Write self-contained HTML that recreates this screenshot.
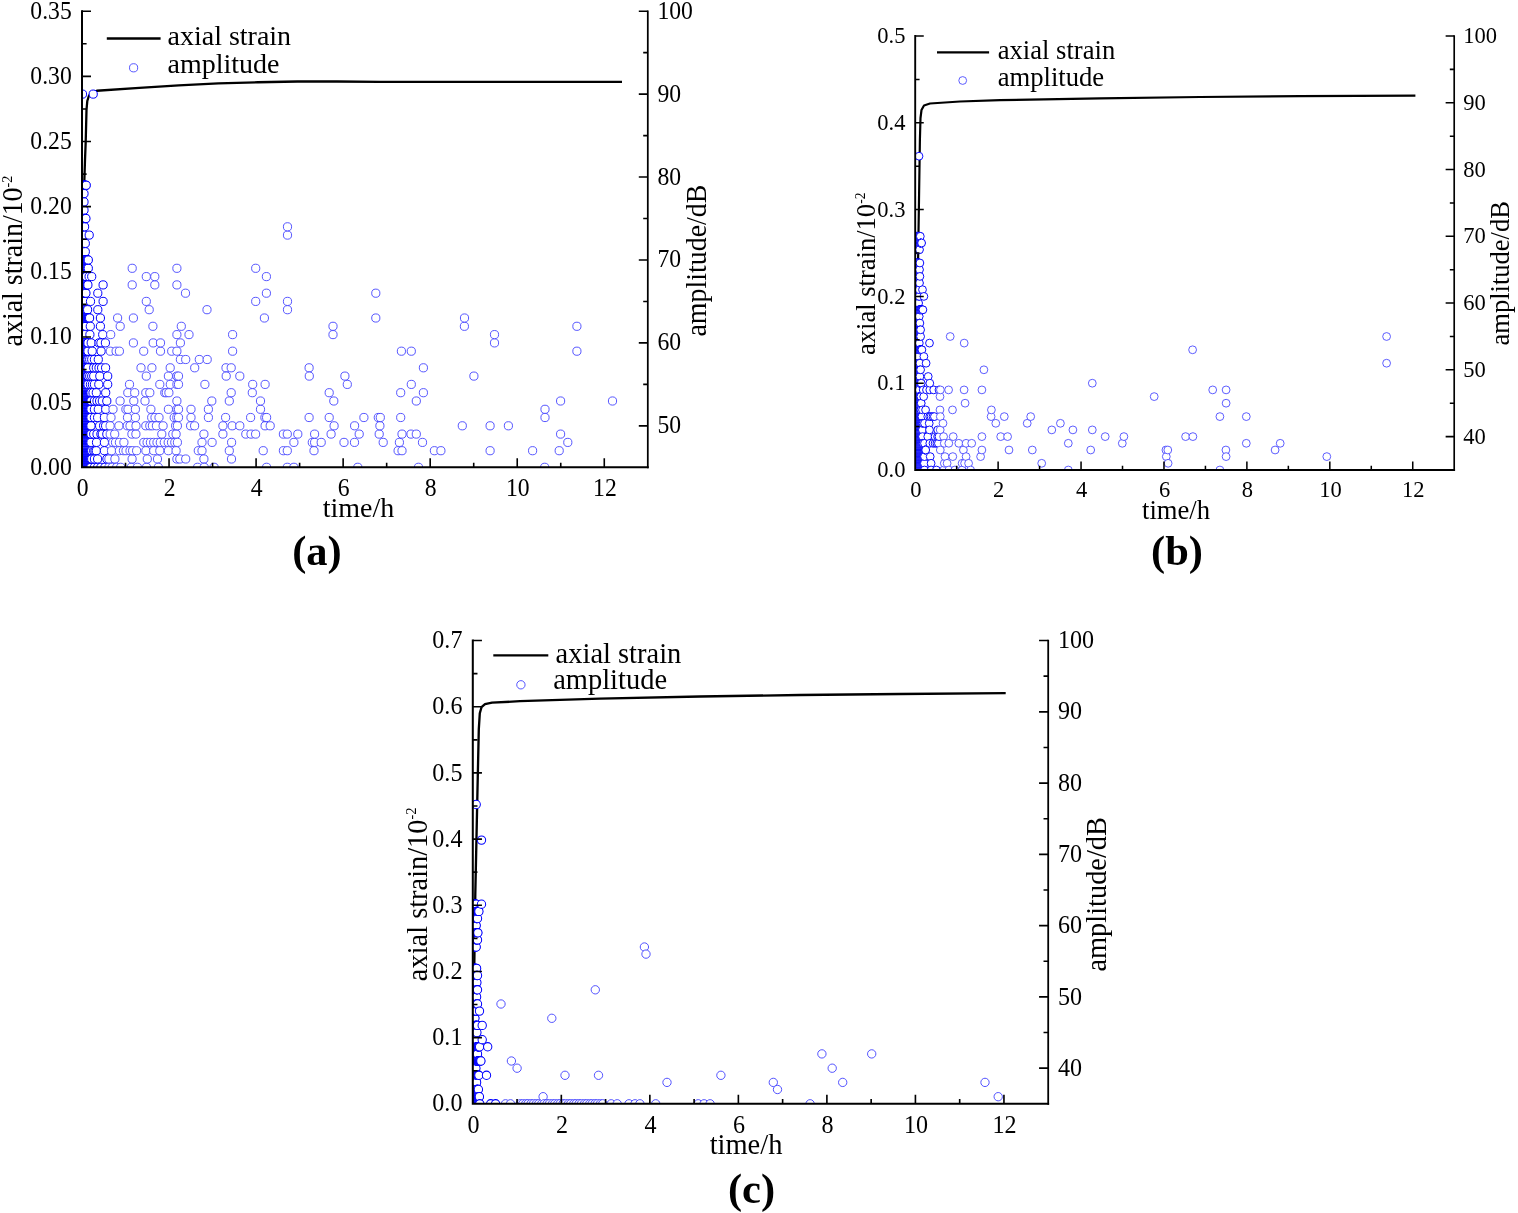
<!DOCTYPE html>
<html lang="en">
<head>
<meta charset="utf-8">
<title>Axial strain and AE amplitude versus time</title>
<style>
html,body{margin:0;padding:0;background:#fff;}
body{width:1518px;height:1213px;overflow:hidden;}
svg{display:block;}
text{font-family:"Liberation Serif",serif;fill:#000;}
.lb{font-weight:bold;}
.ax{stroke:#000;fill:none;}
.pt{fill:#fff;stroke:#4444ff;}
.pn{stroke:#0000ff;}
.cv{fill:none;stroke:#000;stroke-linecap:butt;stroke-linejoin:round;}
</style>
</head>
<body>
<svg width="1518" height="1213" viewBox="0 0 1518 1213">
<rect width="1518" height="1213" fill="#fff"/>

<g id="chart-a">
<clipPath id="clip-a"><rect x="82.0" y="9.2" width="565.8" height="458.1"/></clipPath>
<g clip-path="url(#clip-a)">
<path class="cv" stroke-width="2.30" d="M84.3,182 L85,160 L85.7,142 L86.5,110 L87.3,101 L89,95.5 L92.3,92.2 L96.8,90.75 L139.3,87.8 L178.8,85.4 L218.3,83.4 L257.9,82.25 L297.4,81.5 L336.9,81.5 L380,81.8 L622,81.8"/>
<g class="pt pn" stroke-width="1.00"><circle cx="82.0" cy="467.3" r="4.10"/><circle cx="82.0" cy="459.0" r="4.10"/><circle cx="82.0" cy="450.7" r="4.10"/><circle cx="82.0" cy="442.4" r="4.10"/><circle cx="82.0" cy="434.1" r="4.10"/><circle cx="82.0" cy="425.8" r="4.10"/><circle cx="82.0" cy="417.5" r="4.10"/><circle cx="82.0" cy="409.3" r="4.10"/><circle cx="82.0" cy="401.0" r="4.10"/><circle cx="82.0" cy="392.7" r="4.10"/><circle cx="82.0" cy="384.4" r="4.10"/><circle cx="82.0" cy="376.1" r="4.10"/><circle cx="82.0" cy="367.8" r="4.10"/><circle cx="82.0" cy="359.5" r="4.10"/><circle cx="82.0" cy="351.2" r="4.10"/><circle cx="82.0" cy="342.9" r="4.10"/><circle cx="82.0" cy="334.6" r="4.10"/><circle cx="82.0" cy="326.3" r="4.10"/><circle cx="82.0" cy="318.0" r="4.10"/><circle cx="82.0" cy="309.7" r="4.10"/><circle cx="82.0" cy="301.4" r="4.10"/><circle cx="82.0" cy="293.2" r="4.10"/><circle cx="82.0" cy="284.9" r="4.10"/><circle cx="82.0" cy="276.6" r="4.10"/><circle cx="82.0" cy="268.3" r="4.10"/><circle cx="82.0" cy="260.0" r="4.10"/><circle cx="82.0" cy="251.7" r="4.10"/><circle cx="82.0" cy="243.4" r="4.10"/><circle cx="82.0" cy="235.1" r="4.10"/><circle cx="82.0" cy="226.8" r="4.10"/><circle cx="82.0" cy="218.5" r="4.10"/><circle cx="82.0" cy="210.2" r="4.10"/><circle cx="82.0" cy="201.9" r="4.10"/><circle cx="82.0" cy="193.6" r="4.10"/><circle cx="82.0" cy="185.3" r="4.10"/><circle cx="82.3" cy="467.3" r="4.10"/><circle cx="82.3" cy="459.0" r="4.10"/><circle cx="82.3" cy="450.7" r="4.10"/><circle cx="82.3" cy="442.4" r="4.10"/><circle cx="82.3" cy="434.1" r="4.10"/><circle cx="82.3" cy="425.8" r="4.10"/><circle cx="82.3" cy="417.5" r="4.10"/><circle cx="82.3" cy="409.3" r="4.10"/><circle cx="82.3" cy="401.0" r="4.10"/><circle cx="82.3" cy="392.7" r="4.10"/><circle cx="82.3" cy="384.4" r="4.10"/><circle cx="82.3" cy="376.1" r="4.10"/><circle cx="82.3" cy="367.8" r="4.10"/><circle cx="82.3" cy="359.5" r="4.10"/><circle cx="82.3" cy="351.2" r="4.10"/><circle cx="82.3" cy="342.9" r="4.10"/><circle cx="82.3" cy="334.6" r="4.10"/><circle cx="82.3" cy="326.3" r="4.10"/><circle cx="82.3" cy="318.0" r="4.10"/><circle cx="82.3" cy="309.7" r="4.10"/><circle cx="82.3" cy="301.4" r="4.10"/><circle cx="82.3" cy="293.2" r="4.10"/><circle cx="82.3" cy="284.9" r="4.10"/><circle cx="82.3" cy="276.6" r="4.10"/><circle cx="82.3" cy="268.3" r="4.10"/><circle cx="82.3" cy="260.0" r="4.10"/><circle cx="82.3" cy="251.7" r="4.10"/><circle cx="82.3" cy="243.4" r="4.10"/><circle cx="82.3" cy="235.1" r="4.10"/><circle cx="82.3" cy="226.8" r="4.10"/><circle cx="82.3" cy="218.5" r="4.10"/><circle cx="82.3" cy="210.2" r="4.10"/><circle cx="82.3" cy="201.9" r="4.10"/><circle cx="82.3" cy="193.6" r="4.10"/><circle cx="82.3" cy="185.3" r="4.10"/><circle cx="82.5" cy="94.1" r="4.10"/><circle cx="82.6" cy="467.3" r="4.10"/><circle cx="82.6" cy="459.0" r="4.10"/><circle cx="82.6" cy="450.7" r="4.10"/><circle cx="82.6" cy="442.4" r="4.10"/><circle cx="82.6" cy="434.1" r="4.10"/><circle cx="82.6" cy="425.8" r="4.10"/><circle cx="82.6" cy="417.5" r="4.10"/><circle cx="82.6" cy="409.3" r="4.10"/><circle cx="82.6" cy="401.0" r="4.10"/><circle cx="82.6" cy="392.7" r="4.10"/><circle cx="82.6" cy="384.4" r="4.10"/><circle cx="82.6" cy="376.1" r="4.10"/><circle cx="82.6" cy="367.8" r="4.10"/><circle cx="82.6" cy="359.5" r="4.10"/><circle cx="82.6" cy="351.2" r="4.10"/><circle cx="82.6" cy="342.9" r="4.10"/><circle cx="82.6" cy="334.6" r="4.10"/><circle cx="82.6" cy="326.3" r="4.10"/><circle cx="82.6" cy="318.0" r="4.10"/><circle cx="82.6" cy="309.7" r="4.10"/><circle cx="82.6" cy="301.4" r="4.10"/><circle cx="82.6" cy="293.2" r="4.10"/><circle cx="82.6" cy="284.9" r="4.10"/><circle cx="82.6" cy="276.6" r="4.10"/><circle cx="82.6" cy="268.3" r="4.10"/><circle cx="82.6" cy="260.0" r="4.10"/><circle cx="82.6" cy="251.7" r="4.10"/><circle cx="82.6" cy="243.4" r="4.10"/><circle cx="82.6" cy="235.1" r="4.10"/><circle cx="82.6" cy="226.8" r="4.10"/><circle cx="82.6" cy="218.5" r="4.10"/><circle cx="82.6" cy="210.2" r="4.10"/><circle cx="82.6" cy="201.9" r="4.10"/><circle cx="82.6" cy="193.6" r="4.10"/><circle cx="82.6" cy="185.3" r="4.10"/><circle cx="82.9" cy="467.3" r="4.10"/><circle cx="82.9" cy="459.0" r="4.10"/><circle cx="82.9" cy="450.7" r="4.10"/><circle cx="82.9" cy="442.4" r="4.10"/><circle cx="82.9" cy="434.1" r="4.10"/><circle cx="82.9" cy="425.8" r="4.10"/><circle cx="82.9" cy="417.5" r="4.10"/><circle cx="82.9" cy="409.3" r="4.10"/><circle cx="82.9" cy="401.0" r="4.10"/><circle cx="82.9" cy="392.7" r="4.10"/><circle cx="82.9" cy="384.4" r="4.10"/><circle cx="82.9" cy="376.1" r="4.10"/><circle cx="82.9" cy="367.8" r="4.10"/><circle cx="82.9" cy="359.5" r="4.10"/><circle cx="82.9" cy="351.2" r="4.10"/><circle cx="82.9" cy="342.9" r="4.10"/><circle cx="82.9" cy="334.6" r="4.10"/><circle cx="82.9" cy="326.3" r="4.10"/><circle cx="82.9" cy="318.0" r="4.10"/><circle cx="82.9" cy="309.7" r="4.10"/><circle cx="82.9" cy="301.4" r="4.10"/><circle cx="82.9" cy="293.2" r="4.10"/><circle cx="82.9" cy="284.9" r="4.10"/><circle cx="82.9" cy="276.6" r="4.10"/><circle cx="82.9" cy="268.3" r="4.10"/><circle cx="82.9" cy="260.0" r="4.10"/><circle cx="82.9" cy="251.7" r="4.10"/><circle cx="82.9" cy="243.4" r="4.10"/><circle cx="82.9" cy="235.1" r="4.10"/><circle cx="82.9" cy="226.8" r="4.10"/><circle cx="82.9" cy="218.5" r="4.10"/><circle cx="82.9" cy="210.2" r="4.10"/><circle cx="82.9" cy="201.9" r="4.10"/><circle cx="82.9" cy="193.6" r="4.10"/><circle cx="82.9" cy="185.3" r="4.10"/><circle cx="83.2" cy="467.3" r="4.10"/><circle cx="83.2" cy="459.0" r="4.10"/><circle cx="83.2" cy="450.7" r="4.10"/><circle cx="83.2" cy="442.4" r="4.10"/><circle cx="83.2" cy="434.1" r="4.10"/><circle cx="83.2" cy="425.8" r="4.10"/><circle cx="83.2" cy="417.5" r="4.10"/><circle cx="83.2" cy="409.3" r="4.10"/><circle cx="83.2" cy="401.0" r="4.10"/><circle cx="83.2" cy="392.7" r="4.10"/><circle cx="83.2" cy="384.4" r="4.10"/><circle cx="83.2" cy="376.1" r="4.10"/><circle cx="83.2" cy="367.8" r="4.10"/><circle cx="83.2" cy="359.5" r="4.10"/><circle cx="83.2" cy="351.2" r="4.10"/><circle cx="83.2" cy="342.9" r="4.10"/><circle cx="83.2" cy="334.6" r="4.10"/><circle cx="83.2" cy="326.3" r="4.10"/><circle cx="83.2" cy="318.0" r="4.10"/><circle cx="83.2" cy="309.7" r="4.10"/><circle cx="83.2" cy="301.4" r="4.10"/><circle cx="83.2" cy="293.2" r="4.10"/><circle cx="83.2" cy="284.9" r="4.10"/><circle cx="83.2" cy="276.6" r="4.10"/><circle cx="83.2" cy="268.3" r="4.10"/><circle cx="83.2" cy="260.0" r="4.10"/><circle cx="83.2" cy="251.7" r="4.10"/><circle cx="83.2" cy="243.4" r="4.10"/><circle cx="83.2" cy="235.1" r="4.10"/><circle cx="83.2" cy="226.8" r="4.10"/><circle cx="83.2" cy="218.5" r="4.10"/><circle cx="83.2" cy="210.2" r="4.10"/><circle cx="83.2" cy="201.9" r="4.10"/><circle cx="83.2" cy="193.6" r="4.10"/><circle cx="83.2" cy="185.3" r="4.10"/><circle cx="83.5" cy="467.3" r="4.10"/><circle cx="83.5" cy="459.0" r="4.10"/><circle cx="83.5" cy="450.7" r="4.10"/><circle cx="83.5" cy="442.4" r="4.10"/><circle cx="83.5" cy="434.1" r="4.10"/><circle cx="83.5" cy="425.8" r="4.10"/><circle cx="83.5" cy="417.5" r="4.10"/><circle cx="83.5" cy="409.3" r="4.10"/><circle cx="83.5" cy="401.0" r="4.10"/><circle cx="83.5" cy="392.7" r="4.10"/><circle cx="83.5" cy="384.4" r="4.10"/><circle cx="83.5" cy="376.1" r="4.10"/><circle cx="83.5" cy="367.8" r="4.10"/><circle cx="83.5" cy="359.5" r="4.10"/><circle cx="83.5" cy="351.2" r="4.10"/><circle cx="83.5" cy="342.9" r="4.10"/><circle cx="83.5" cy="334.6" r="4.10"/><circle cx="83.5" cy="326.3" r="4.10"/><circle cx="83.5" cy="318.0" r="4.10"/><circle cx="83.5" cy="309.7" r="4.10"/><circle cx="83.5" cy="301.4" r="4.10"/><circle cx="83.5" cy="293.2" r="4.10"/><circle cx="83.5" cy="284.9" r="4.10"/><circle cx="83.5" cy="276.6" r="4.10"/><circle cx="83.5" cy="268.3" r="4.10"/><circle cx="83.5" cy="260.0" r="4.10"/><circle cx="83.5" cy="251.7" r="4.10"/><circle cx="83.5" cy="243.4" r="4.10"/><circle cx="83.5" cy="235.1" r="4.10"/><circle cx="83.5" cy="226.8" r="4.10"/><circle cx="83.5" cy="218.5" r="4.10"/><circle cx="83.5" cy="210.2" r="4.10"/><circle cx="83.5" cy="201.9" r="4.10"/><circle cx="83.5" cy="193.6" r="4.10"/><circle cx="83.5" cy="185.3" r="4.10"/><circle cx="83.8" cy="467.3" r="4.10"/><circle cx="83.8" cy="459.0" r="4.10"/><circle cx="83.8" cy="450.7" r="4.10"/><circle cx="83.8" cy="442.4" r="4.10"/><circle cx="83.8" cy="434.1" r="4.10"/><circle cx="83.8" cy="425.8" r="4.10"/><circle cx="83.8" cy="417.5" r="4.10"/><circle cx="83.8" cy="409.3" r="4.10"/><circle cx="83.8" cy="401.0" r="4.10"/><circle cx="83.8" cy="392.7" r="4.10"/><circle cx="83.8" cy="384.4" r="4.10"/><circle cx="83.8" cy="376.1" r="4.10"/><circle cx="83.8" cy="367.8" r="4.10"/><circle cx="83.8" cy="359.5" r="4.10"/><circle cx="83.8" cy="351.2" r="4.10"/><circle cx="83.8" cy="342.9" r="4.10"/><circle cx="83.8" cy="334.6" r="4.10"/><circle cx="83.8" cy="326.3" r="4.10"/><circle cx="83.8" cy="318.0" r="4.10"/><circle cx="83.8" cy="309.7" r="4.10"/><circle cx="83.8" cy="301.4" r="4.10"/><circle cx="83.8" cy="293.2" r="4.10"/><circle cx="83.8" cy="284.9" r="4.10"/><circle cx="83.8" cy="276.6" r="4.10"/><circle cx="83.8" cy="268.3" r="4.10"/><circle cx="83.8" cy="260.0" r="4.10"/><circle cx="83.8" cy="251.7" r="4.10"/><circle cx="83.8" cy="243.4" r="4.10"/><circle cx="83.8" cy="235.1" r="4.10"/><circle cx="83.8" cy="226.8" r="4.10"/><circle cx="83.8" cy="218.5" r="4.10"/><circle cx="83.8" cy="185.3" r="4.10"/><circle cx="84.0" cy="210.2" r="4.10"/><circle cx="84.0" cy="201.9" r="4.10"/><circle cx="84.0" cy="193.6" r="4.10"/><circle cx="84.1" cy="467.3" r="4.10"/><circle cx="84.1" cy="459.0" r="4.10"/><circle cx="84.1" cy="450.7" r="4.10"/><circle cx="84.1" cy="442.4" r="4.10"/><circle cx="84.1" cy="434.1" r="4.10"/><circle cx="84.1" cy="425.8" r="4.10"/><circle cx="84.1" cy="417.5" r="4.10"/><circle cx="84.1" cy="409.3" r="4.10"/><circle cx="84.1" cy="401.0" r="4.10"/><circle cx="84.1" cy="392.7" r="4.10"/><circle cx="84.1" cy="384.4" r="4.10"/><circle cx="84.1" cy="376.1" r="4.10"/><circle cx="84.1" cy="367.8" r="4.10"/><circle cx="84.1" cy="359.5" r="4.10"/><circle cx="84.1" cy="351.2" r="4.10"/><circle cx="84.1" cy="342.9" r="4.10"/><circle cx="84.1" cy="334.6" r="4.10"/><circle cx="84.1" cy="326.3" r="4.10"/><circle cx="84.1" cy="318.0" r="4.10"/><circle cx="84.1" cy="309.7" r="4.10"/><circle cx="84.1" cy="301.4" r="4.10"/><circle cx="84.1" cy="293.2" r="4.10"/><circle cx="84.1" cy="284.9" r="4.10"/><circle cx="84.1" cy="276.6" r="4.10"/><circle cx="84.1" cy="268.3" r="4.10"/><circle cx="84.1" cy="260.0" r="4.10"/><circle cx="84.1" cy="251.7" r="4.10"/><circle cx="84.1" cy="243.4" r="4.10"/><circle cx="84.1" cy="235.1" r="4.10"/><circle cx="84.1" cy="226.8" r="4.10"/><circle cx="84.1" cy="218.5" r="4.10"/><circle cx="84.1" cy="185.3" r="4.10"/><circle cx="84.4" cy="467.3" r="4.10"/><circle cx="84.4" cy="459.0" r="4.10"/><circle cx="84.4" cy="450.7" r="4.10"/><circle cx="84.4" cy="442.4" r="4.10"/><circle cx="84.4" cy="434.1" r="4.10"/><circle cx="84.4" cy="425.8" r="4.10"/><circle cx="84.4" cy="417.5" r="4.10"/><circle cx="84.4" cy="409.3" r="4.10"/><circle cx="84.4" cy="401.0" r="4.10"/><circle cx="84.4" cy="392.7" r="4.10"/><circle cx="84.4" cy="384.4" r="4.10"/><circle cx="84.4" cy="376.1" r="4.10"/><circle cx="84.4" cy="367.8" r="4.10"/><circle cx="84.4" cy="359.5" r="4.10"/><circle cx="84.4" cy="351.2" r="4.10"/><circle cx="84.4" cy="342.9" r="4.10"/><circle cx="84.4" cy="334.6" r="4.10"/><circle cx="84.4" cy="326.3" r="4.10"/><circle cx="84.4" cy="318.0" r="4.10"/><circle cx="84.4" cy="309.7" r="4.10"/><circle cx="84.4" cy="301.4" r="4.10"/><circle cx="84.4" cy="293.2" r="4.10"/><circle cx="84.4" cy="284.9" r="4.10"/><circle cx="84.4" cy="276.6" r="4.10"/><circle cx="84.4" cy="268.3" r="4.10"/><circle cx="84.4" cy="260.0" r="4.10"/><circle cx="84.4" cy="251.7" r="4.10"/><circle cx="84.4" cy="243.4" r="4.10"/><circle cx="84.4" cy="218.5" r="4.10"/><circle cx="84.4" cy="185.3" r="4.10"/><circle cx="84.6" cy="334.6" r="4.10"/><circle cx="84.6" cy="301.4" r="4.10"/><circle cx="84.6" cy="235.1" r="4.10"/><circle cx="84.6" cy="226.8" r="4.10"/><circle cx="84.7" cy="467.3" r="4.10"/><circle cx="84.7" cy="459.0" r="4.10"/><circle cx="84.7" cy="450.7" r="4.10"/><circle cx="84.7" cy="442.4" r="4.10"/><circle cx="84.7" cy="434.1" r="4.10"/><circle cx="84.7" cy="425.8" r="4.10"/><circle cx="84.7" cy="417.5" r="4.10"/><circle cx="84.7" cy="409.3" r="4.10"/><circle cx="84.7" cy="401.0" r="4.10"/><circle cx="84.7" cy="392.7" r="4.10"/><circle cx="84.7" cy="384.4" r="4.10"/><circle cx="84.7" cy="376.1" r="4.10"/><circle cx="84.7" cy="367.8" r="4.10"/><circle cx="84.7" cy="359.5" r="4.10"/><circle cx="84.7" cy="351.2" r="4.10"/><circle cx="84.7" cy="342.9" r="4.10"/><circle cx="84.7" cy="334.6" r="4.10"/><circle cx="84.7" cy="326.3" r="4.10"/><circle cx="84.7" cy="318.0" r="4.10"/><circle cx="84.7" cy="309.7" r="4.10"/><circle cx="84.7" cy="301.4" r="4.10"/><circle cx="84.7" cy="293.2" r="4.10"/><circle cx="84.7" cy="284.9" r="4.10"/><circle cx="84.7" cy="276.6" r="4.10"/><circle cx="84.7" cy="268.3" r="4.10"/><circle cx="84.7" cy="260.0" r="4.10"/><circle cx="84.7" cy="251.7" r="4.10"/><circle cx="84.7" cy="243.4" r="4.10"/><circle cx="84.7" cy="218.5" r="4.10"/><circle cx="84.7" cy="185.3" r="4.10"/><circle cx="85.0" cy="467.3" r="4.10"/><circle cx="85.0" cy="459.0" r="4.10"/><circle cx="85.0" cy="450.7" r="4.10"/><circle cx="85.0" cy="442.4" r="4.10"/><circle cx="85.0" cy="434.1" r="4.10"/><circle cx="85.0" cy="425.8" r="4.10"/><circle cx="85.0" cy="417.5" r="4.10"/><circle cx="85.0" cy="409.3" r="4.10"/><circle cx="85.0" cy="401.0" r="4.10"/><circle cx="85.0" cy="392.7" r="4.10"/><circle cx="85.0" cy="384.4" r="4.10"/><circle cx="85.0" cy="376.1" r="4.10"/><circle cx="85.0" cy="367.8" r="4.10"/><circle cx="85.0" cy="359.5" r="4.10"/><circle cx="85.0" cy="351.2" r="4.10"/><circle cx="85.0" cy="342.9" r="4.10"/><circle cx="85.0" cy="326.3" r="4.10"/><circle cx="85.0" cy="318.0" r="4.10"/><circle cx="85.0" cy="309.7" r="4.10"/><circle cx="85.0" cy="293.2" r="4.10"/><circle cx="85.0" cy="284.9" r="4.10"/><circle cx="85.0" cy="276.6" r="4.10"/><circle cx="85.0" cy="268.3" r="4.10"/><circle cx="85.0" cy="260.0" r="4.10"/><circle cx="85.0" cy="218.5" r="4.10"/><circle cx="85.0" cy="185.3" r="4.10"/><circle cx="85.3" cy="367.8" r="4.10"/><circle cx="85.3" cy="251.7" r="4.10"/><circle cx="85.3" cy="243.4" r="4.10"/><circle cx="85.3" cy="467.3" r="4.10"/><circle cx="85.3" cy="459.0" r="4.10"/><circle cx="85.3" cy="450.7" r="4.10"/><circle cx="85.3" cy="442.4" r="4.10"/><circle cx="85.3" cy="434.1" r="4.10"/><circle cx="85.3" cy="425.8" r="4.10"/><circle cx="85.3" cy="417.5" r="4.10"/><circle cx="85.3" cy="409.3" r="4.10"/><circle cx="85.3" cy="401.0" r="4.10"/><circle cx="85.3" cy="392.7" r="4.10"/><circle cx="85.3" cy="384.4" r="4.10"/><circle cx="85.3" cy="376.1" r="4.10"/><circle cx="85.3" cy="367.8" r="4.10"/><circle cx="85.3" cy="359.5" r="4.10"/><circle cx="85.3" cy="351.2" r="4.10"/><circle cx="85.3" cy="342.9" r="4.10"/><circle cx="85.3" cy="326.3" r="4.10"/><circle cx="85.3" cy="318.0" r="4.10"/><circle cx="85.3" cy="309.7" r="4.10"/><circle cx="85.3" cy="293.2" r="4.10"/><circle cx="85.3" cy="284.9" r="4.10"/><circle cx="85.3" cy="276.6" r="4.10"/><circle cx="85.3" cy="268.3" r="4.10"/><circle cx="85.3" cy="260.0" r="4.10"/><circle cx="85.3" cy="218.5" r="4.10"/><circle cx="85.3" cy="185.3" r="4.10"/><circle cx="85.6" cy="467.3" r="4.10"/><circle cx="85.6" cy="459.0" r="4.10"/><circle cx="85.6" cy="450.7" r="4.10"/><circle cx="85.6" cy="442.4" r="4.10"/><circle cx="85.6" cy="434.1" r="4.10"/><circle cx="85.6" cy="425.8" r="4.10"/><circle cx="85.6" cy="417.5" r="4.10"/><circle cx="85.6" cy="409.3" r="4.10"/><circle cx="85.6" cy="401.0" r="4.10"/><circle cx="85.6" cy="392.7" r="4.10"/><circle cx="85.6" cy="384.4" r="4.10"/><circle cx="85.6" cy="376.1" r="4.10"/><circle cx="85.6" cy="367.8" r="4.10"/><circle cx="85.6" cy="359.5" r="4.10"/><circle cx="85.6" cy="351.2" r="4.10"/><circle cx="85.6" cy="342.9" r="4.10"/><circle cx="85.6" cy="318.0" r="4.10"/><circle cx="85.6" cy="309.7" r="4.10"/><circle cx="85.6" cy="293.2" r="4.10"/><circle cx="85.6" cy="284.9" r="4.10"/><circle cx="85.6" cy="276.6" r="4.10"/><circle cx="85.6" cy="268.3" r="4.10"/><circle cx="85.6" cy="260.0" r="4.10"/><circle cx="85.6" cy="218.5" r="4.10"/><circle cx="85.6" cy="185.3" r="4.10"/><circle cx="85.8" cy="326.3" r="4.10"/><circle cx="85.9" cy="467.3" r="4.10"/><circle cx="85.9" cy="459.0" r="4.10"/><circle cx="85.9" cy="450.7" r="4.10"/><circle cx="85.9" cy="442.4" r="4.10"/><circle cx="85.9" cy="434.1" r="4.10"/><circle cx="85.9" cy="425.8" r="4.10"/><circle cx="85.9" cy="417.5" r="4.10"/><circle cx="85.9" cy="409.3" r="4.10"/><circle cx="85.9" cy="401.0" r="4.10"/><circle cx="85.9" cy="392.7" r="4.10"/><circle cx="85.9" cy="384.4" r="4.10"/><circle cx="85.9" cy="376.1" r="4.10"/><circle cx="85.9" cy="367.8" r="4.10"/><circle cx="85.9" cy="359.5" r="4.10"/><circle cx="85.9" cy="351.2" r="4.10"/><circle cx="85.9" cy="342.9" r="4.10"/><circle cx="85.9" cy="318.0" r="4.10"/><circle cx="85.9" cy="309.7" r="4.10"/><circle cx="85.9" cy="284.9" r="4.10"/><circle cx="85.9" cy="276.6" r="4.10"/><circle cx="85.9" cy="268.3" r="4.10"/><circle cx="85.9" cy="260.0" r="4.10"/><circle cx="85.9" cy="185.3" r="4.10"/><circle cx="85.9" cy="342.9" r="4.10"/><circle cx="85.9" cy="293.2" r="4.10"/><circle cx="85.9" cy="218.5" r="4.10"/><circle cx="86.2" cy="467.3" r="4.10"/><circle cx="86.2" cy="459.0" r="4.10"/><circle cx="86.2" cy="450.7" r="4.10"/><circle cx="86.2" cy="442.4" r="4.10"/><circle cx="86.2" cy="434.1" r="4.10"/><circle cx="86.2" cy="425.8" r="4.10"/><circle cx="86.2" cy="417.5" r="4.10"/><circle cx="86.2" cy="409.3" r="4.10"/><circle cx="86.2" cy="401.0" r="4.10"/><circle cx="86.2" cy="392.7" r="4.10"/><circle cx="86.2" cy="384.4" r="4.10"/><circle cx="86.2" cy="376.1" r="4.10"/><circle cx="86.2" cy="367.8" r="4.10"/><circle cx="86.2" cy="359.5" r="4.10"/><circle cx="86.2" cy="351.2" r="4.10"/><circle cx="86.2" cy="342.9" r="4.10"/><circle cx="86.2" cy="318.0" r="4.10"/><circle cx="86.2" cy="309.7" r="4.10"/><circle cx="86.2" cy="284.9" r="4.10"/><circle cx="86.2" cy="268.3" r="4.10"/><circle cx="86.2" cy="260.0" r="4.10"/><circle cx="86.2" cy="185.3" r="4.10"/><circle cx="86.4" cy="384.4" r="4.10"/><circle cx="86.4" cy="276.6" r="4.10"/><circle cx="86.5" cy="467.3" r="4.10"/><circle cx="86.5" cy="459.0" r="4.10"/><circle cx="86.5" cy="450.7" r="4.10"/><circle cx="86.5" cy="442.4" r="4.10"/><circle cx="86.5" cy="434.1" r="4.10"/><circle cx="86.5" cy="425.8" r="4.10"/><circle cx="86.5" cy="417.5" r="4.10"/><circle cx="86.5" cy="409.3" r="4.10"/><circle cx="86.5" cy="401.0" r="4.10"/><circle cx="86.5" cy="392.7" r="4.10"/><circle cx="86.5" cy="384.4" r="4.10"/><circle cx="86.5" cy="376.1" r="4.10"/><circle cx="86.5" cy="367.8" r="4.10"/><circle cx="86.5" cy="359.5" r="4.10"/><circle cx="86.5" cy="351.2" r="4.10"/><circle cx="86.5" cy="342.9" r="4.10"/><circle cx="86.5" cy="318.0" r="4.10"/><circle cx="86.5" cy="309.7" r="4.10"/><circle cx="86.5" cy="284.9" r="4.10"/><circle cx="86.5" cy="268.3" r="4.10"/><circle cx="86.5" cy="260.0" r="4.10"/><circle cx="86.8" cy="467.3" r="4.10"/><circle cx="86.8" cy="459.0" r="4.10"/><circle cx="86.8" cy="450.7" r="4.10"/><circle cx="86.8" cy="442.4" r="4.10"/><circle cx="86.8" cy="434.1" r="4.10"/><circle cx="86.8" cy="425.8" r="4.10"/><circle cx="86.8" cy="417.5" r="4.10"/><circle cx="86.8" cy="409.3" r="4.10"/><circle cx="86.8" cy="401.0" r="4.10"/><circle cx="86.8" cy="392.7" r="4.10"/><circle cx="86.8" cy="384.4" r="4.10"/><circle cx="86.8" cy="376.1" r="4.10"/><circle cx="86.8" cy="367.8" r="4.10"/><circle cx="86.8" cy="359.5" r="4.10"/><circle cx="86.8" cy="351.2" r="4.10"/><circle cx="86.8" cy="342.9" r="4.10"/><circle cx="86.8" cy="318.0" r="4.10"/><circle cx="86.8" cy="309.7" r="4.10"/><circle cx="86.8" cy="284.9" r="4.10"/><circle cx="86.8" cy="268.3" r="4.10"/><circle cx="86.8" cy="260.0" r="4.10"/><circle cx="87.1" cy="467.3" r="4.10"/><circle cx="87.1" cy="459.0" r="4.10"/><circle cx="87.1" cy="450.7" r="4.10"/><circle cx="87.1" cy="442.4" r="4.10"/><circle cx="87.1" cy="434.1" r="4.10"/><circle cx="87.1" cy="425.8" r="4.10"/><circle cx="87.1" cy="417.5" r="4.10"/><circle cx="87.1" cy="409.3" r="4.10"/><circle cx="87.1" cy="401.0" r="4.10"/><circle cx="87.1" cy="392.7" r="4.10"/><circle cx="87.1" cy="384.4" r="4.10"/><circle cx="87.1" cy="376.1" r="4.10"/><circle cx="87.1" cy="367.8" r="4.10"/><circle cx="87.1" cy="359.5" r="4.10"/><circle cx="87.1" cy="351.2" r="4.10"/><circle cx="87.1" cy="342.9" r="4.10"/><circle cx="87.1" cy="318.0" r="4.10"/><circle cx="87.1" cy="309.7" r="4.10"/><circle cx="87.1" cy="284.9" r="4.10"/><circle cx="87.1" cy="268.3" r="4.10"/><circle cx="87.1" cy="260.0" r="4.10"/><circle cx="87.4" cy="467.3" r="4.10"/><circle cx="87.4" cy="459.0" r="4.10"/><circle cx="87.4" cy="450.7" r="4.10"/><circle cx="87.4" cy="442.4" r="4.10"/><circle cx="87.4" cy="434.1" r="4.10"/><circle cx="87.4" cy="425.8" r="4.10"/><circle cx="87.4" cy="417.5" r="4.10"/><circle cx="87.4" cy="409.3" r="4.10"/><circle cx="87.4" cy="401.0" r="4.10"/><circle cx="87.4" cy="392.7" r="4.10"/><circle cx="87.4" cy="384.4" r="4.10"/><circle cx="87.4" cy="376.1" r="4.10"/><circle cx="87.4" cy="367.8" r="4.10"/><circle cx="87.4" cy="359.5" r="4.10"/><circle cx="87.4" cy="351.2" r="4.10"/><circle cx="87.4" cy="342.9" r="4.10"/><circle cx="87.4" cy="318.0" r="4.10"/><circle cx="87.4" cy="284.9" r="4.10"/><circle cx="87.4" cy="268.3" r="4.10"/><circle cx="87.4" cy="260.0" r="4.10"/><circle cx="87.6" cy="309.7" r="4.10"/><circle cx="87.7" cy="467.3" r="4.10"/><circle cx="87.7" cy="459.0" r="4.10"/><circle cx="87.7" cy="450.7" r="4.10"/><circle cx="87.7" cy="442.4" r="4.10"/><circle cx="87.7" cy="434.1" r="4.10"/><circle cx="87.7" cy="425.8" r="4.10"/><circle cx="87.7" cy="417.5" r="4.10"/><circle cx="87.7" cy="409.3" r="4.10"/><circle cx="87.7" cy="401.0" r="4.10"/><circle cx="87.7" cy="392.7" r="4.10"/><circle cx="87.7" cy="384.4" r="4.10"/><circle cx="87.7" cy="376.1" r="4.10"/><circle cx="87.7" cy="367.8" r="4.10"/><circle cx="87.7" cy="359.5" r="4.10"/><circle cx="87.7" cy="351.2" r="4.10"/><circle cx="87.7" cy="342.9" r="4.10"/><circle cx="87.7" cy="318.0" r="4.10"/><circle cx="87.7" cy="268.3" r="4.10"/><circle cx="87.7" cy="260.0" r="4.10"/><circle cx="87.8" cy="376.1" r="4.10"/><circle cx="87.8" cy="359.5" r="4.10"/><circle cx="87.8" cy="351.2" r="4.10"/><circle cx="87.9" cy="284.9" r="4.10"/><circle cx="88.0" cy="467.3" r="4.10"/><circle cx="88.0" cy="459.0" r="4.10"/><circle cx="88.0" cy="450.7" r="4.10"/><circle cx="88.0" cy="442.4" r="4.10"/><circle cx="88.0" cy="434.1" r="4.10"/><circle cx="88.0" cy="425.8" r="4.10"/><circle cx="88.0" cy="417.5" r="4.10"/><circle cx="88.0" cy="409.3" r="4.10"/><circle cx="88.0" cy="401.0" r="4.10"/><circle cx="88.0" cy="392.7" r="4.10"/><circle cx="88.0" cy="384.4" r="4.10"/><circle cx="88.0" cy="376.1" r="4.10"/><circle cx="88.0" cy="367.8" r="4.10"/><circle cx="88.0" cy="359.5" r="4.10"/><circle cx="88.0" cy="351.2" r="4.10"/><circle cx="88.0" cy="342.9" r="4.10"/><circle cx="88.0" cy="318.0" r="4.10"/><circle cx="88.3" cy="268.3" r="4.10"/><circle cx="88.3" cy="260.0" r="4.10"/><circle cx="88.3" cy="467.3" r="4.10"/><circle cx="88.3" cy="459.0" r="4.10"/><circle cx="88.3" cy="450.7" r="4.10"/><circle cx="88.3" cy="442.4" r="4.10"/><circle cx="88.3" cy="434.1" r="4.10"/><circle cx="88.3" cy="425.8" r="4.10"/><circle cx="88.3" cy="417.5" r="4.10"/><circle cx="88.3" cy="409.3" r="4.10"/><circle cx="88.3" cy="401.0" r="4.10"/><circle cx="88.3" cy="392.7" r="4.10"/><circle cx="88.3" cy="318.0" r="4.10"/><circle cx="88.6" cy="467.3" r="4.10"/><circle cx="88.6" cy="459.0" r="4.10"/><circle cx="88.6" cy="450.7" r="4.10"/><circle cx="88.6" cy="442.4" r="4.10"/><circle cx="88.6" cy="434.1" r="4.10"/><circle cx="88.6" cy="425.8" r="4.10"/><circle cx="88.6" cy="417.5" r="4.10"/><circle cx="88.6" cy="409.3" r="4.10"/><circle cx="88.6" cy="401.0" r="4.10"/><circle cx="88.6" cy="392.7" r="4.10"/><circle cx="88.6" cy="318.0" r="4.10"/><circle cx="88.9" cy="467.3" r="4.10"/><circle cx="88.9" cy="459.0" r="4.10"/><circle cx="88.9" cy="450.7" r="4.10"/><circle cx="88.9" cy="442.4" r="4.10"/><circle cx="88.9" cy="434.1" r="4.10"/><circle cx="88.9" cy="425.8" r="4.10"/><circle cx="88.9" cy="417.5" r="4.10"/><circle cx="88.9" cy="409.3" r="4.10"/><circle cx="88.9" cy="401.0" r="4.10"/><circle cx="88.9" cy="392.7" r="4.10"/><circle cx="88.9" cy="318.0" r="4.10"/><circle cx="89.1" cy="409.3" r="4.10"/><circle cx="89.1" cy="276.6" r="4.10"/><circle cx="89.2" cy="467.3" r="4.10"/><circle cx="89.2" cy="459.0" r="4.10"/><circle cx="89.2" cy="450.7" r="4.10"/><circle cx="89.2" cy="442.4" r="4.10"/><circle cx="89.2" cy="434.1" r="4.10"/><circle cx="89.2" cy="425.8" r="4.10"/><circle cx="89.2" cy="417.5" r="4.10"/><circle cx="89.2" cy="409.3" r="4.10"/><circle cx="89.2" cy="401.0" r="4.10"/><circle cx="89.2" cy="392.7" r="4.10"/><circle cx="89.2" cy="318.0" r="4.10"/><circle cx="89.2" cy="235.1" r="4.10"/><circle cx="89.5" cy="467.3" r="4.10"/><circle cx="89.5" cy="459.0" r="4.10"/><circle cx="89.5" cy="450.7" r="4.10"/><circle cx="89.5" cy="442.4" r="4.10"/><circle cx="89.5" cy="434.1" r="4.10"/><circle cx="89.5" cy="425.8" r="4.10"/><circle cx="89.5" cy="417.5" r="4.10"/><circle cx="89.5" cy="409.3" r="4.10"/><circle cx="89.5" cy="401.0" r="4.10"/><circle cx="89.5" cy="392.7" r="4.10"/><circle cx="89.6" cy="318.0" r="4.10"/><circle cx="89.7" cy="459.0" r="4.10"/><circle cx="89.7" cy="442.4" r="4.10"/><circle cx="89.7" cy="425.8" r="4.10"/><circle cx="89.7" cy="376.1" r="4.10"/><circle cx="89.7" cy="359.5" r="4.10"/><circle cx="89.8" cy="467.3" r="4.10"/><circle cx="89.8" cy="459.0" r="4.10"/><circle cx="89.8" cy="450.7" r="4.10"/><circle cx="89.8" cy="442.4" r="4.10"/><circle cx="89.8" cy="434.1" r="4.10"/><circle cx="89.8" cy="425.8" r="4.10"/><circle cx="89.8" cy="417.5" r="4.10"/><circle cx="89.8" cy="409.3" r="4.10"/><circle cx="89.8" cy="401.0" r="4.10"/><circle cx="89.8" cy="392.7" r="4.10"/><circle cx="89.9" cy="334.6" r="4.10"/><circle cx="90.1" cy="467.3" r="4.10"/><circle cx="90.1" cy="459.0" r="4.10"/><circle cx="90.1" cy="450.7" r="4.10"/><circle cx="90.1" cy="442.4" r="4.10"/><circle cx="90.1" cy="434.1" r="4.10"/><circle cx="90.1" cy="425.8" r="4.10"/><circle cx="90.1" cy="417.5" r="4.10"/><circle cx="90.1" cy="409.3" r="4.10"/><circle cx="90.1" cy="401.0" r="4.10"/><circle cx="90.1" cy="392.7" r="4.10"/><circle cx="90.3" cy="326.3" r="4.10"/><circle cx="90.4" cy="467.3" r="4.10"/><circle cx="90.4" cy="434.1" r="4.10"/><circle cx="90.4" cy="417.5" r="4.10"/><circle cx="90.4" cy="409.3" r="4.10"/><circle cx="90.4" cy="392.7" r="4.10"/><circle cx="90.4" cy="384.4" r="4.10"/><circle cx="90.4" cy="467.3" r="4.10"/><circle cx="90.4" cy="459.0" r="4.10"/><circle cx="90.4" cy="450.7" r="4.10"/><circle cx="90.4" cy="442.4" r="4.10"/><circle cx="90.4" cy="434.1" r="4.10"/><circle cx="90.4" cy="425.8" r="4.10"/><circle cx="90.4" cy="417.5" r="4.10"/><circle cx="90.4" cy="409.3" r="4.10"/><circle cx="90.4" cy="401.0" r="4.10"/><circle cx="90.4" cy="392.7" r="4.10"/><circle cx="90.5" cy="301.4" r="4.10"/><circle cx="90.7" cy="467.3" r="4.10"/><circle cx="90.7" cy="459.0" r="4.10"/><circle cx="90.7" cy="450.7" r="4.10"/><circle cx="90.7" cy="442.4" r="4.10"/><circle cx="90.7" cy="434.1" r="4.10"/><circle cx="90.7" cy="425.8" r="4.10"/><circle cx="90.7" cy="417.5" r="4.10"/><circle cx="90.7" cy="409.3" r="4.10"/><circle cx="90.7" cy="401.0" r="4.10"/><circle cx="90.7" cy="392.7" r="4.10"/><circle cx="91.0" cy="467.3" r="4.10"/><circle cx="91.0" cy="459.0" r="4.10"/><circle cx="91.0" cy="450.7" r="4.10"/><circle cx="91.0" cy="442.4" r="4.10"/><circle cx="91.0" cy="434.1" r="4.10"/><circle cx="91.0" cy="425.8" r="4.10"/><circle cx="91.0" cy="417.5" r="4.10"/><circle cx="91.0" cy="409.3" r="4.10"/><circle cx="91.0" cy="401.0" r="4.10"/><circle cx="91.0" cy="392.7" r="4.10"/><circle cx="91.1" cy="401.0" r="4.10"/><circle cx="91.2" cy="342.9" r="4.10"/><circle cx="91.3" cy="450.7" r="4.10"/><circle cx="91.7" cy="459.0" r="4.10"/><circle cx="91.7" cy="450.7" r="4.10"/><circle cx="91.7" cy="376.1" r="4.10"/><circle cx="91.7" cy="359.5" r="4.10"/><circle cx="91.7" cy="276.6" r="4.10"/><circle cx="92.2" cy="351.2" r="4.10"/><circle cx="92.4" cy="384.4" r="4.10"/><circle cx="93.0" cy="392.7" r="4.10"/><circle cx="93.2" cy="94.1" r="4.10"/><circle cx="93.7" cy="450.7" r="4.10"/><circle cx="93.7" cy="434.1" r="4.10"/><circle cx="93.7" cy="376.1" r="4.10"/><circle cx="93.7" cy="367.8" r="4.10"/><circle cx="94.4" cy="467.3" r="4.10"/><circle cx="94.4" cy="459.0" r="4.10"/><circle cx="94.4" cy="417.5" r="4.10"/><circle cx="94.4" cy="409.3" r="4.10"/><circle cx="94.4" cy="401.0" r="4.10"/><circle cx="94.4" cy="384.4" r="4.10"/><circle cx="94.4" cy="359.5" r="4.10"/><circle cx="95.0" cy="450.7" r="4.10"/><circle cx="96.3" cy="450.7" r="4.10"/><circle cx="96.3" cy="392.7" r="4.10"/><circle cx="96.3" cy="367.8" r="4.10"/><circle cx="96.5" cy="442.4" r="4.10"/><circle cx="97.0" cy="434.1" r="4.10"/><circle cx="97.0" cy="401.0" r="4.10"/><circle cx="97.6" cy="467.3" r="4.10"/><circle cx="97.6" cy="459.0" r="4.10"/><circle cx="97.6" cy="417.5" r="4.10"/><circle cx="97.8" cy="309.7" r="4.10"/><circle cx="97.8" cy="293.2" r="4.10"/><circle cx="98.3" cy="409.3" r="4.10"/><circle cx="98.3" cy="359.5" r="4.10"/><circle cx="98.8" cy="384.4" r="4.10"/><circle cx="99.0" cy="367.8" r="4.10"/><circle cx="99.0" cy="342.9" r="4.10"/><circle cx="99.6" cy="425.8" r="4.10"/><circle cx="99.6" cy="401.0" r="4.10"/><circle cx="99.8" cy="376.1" r="4.10"/><circle cx="100.4" cy="326.3" r="4.10"/><circle cx="100.4" cy="318.0" r="4.10"/><circle cx="100.9" cy="467.3" r="4.10"/><circle cx="100.9" cy="434.1" r="4.10"/><circle cx="100.9" cy="342.9" r="4.10"/><circle cx="101.1" cy="351.2" r="4.10"/><circle cx="101.6" cy="367.8" r="4.10"/><circle cx="102.3" cy="434.1" r="4.10"/><circle cx="102.3" cy="401.0" r="4.10"/><circle cx="102.7" cy="334.6" r="4.10"/><circle cx="103.1" cy="301.4" r="4.10"/><circle cx="103.1" cy="284.9" r="4.10"/><circle cx="103.6" cy="425.8" r="4.10"/><circle cx="104.4" cy="450.7" r="4.10"/><circle cx="104.4" cy="442.4" r="4.10"/><circle cx="104.4" cy="417.5" r="4.10"/><circle cx="104.9" cy="467.3" r="4.10"/><circle cx="105.4" cy="342.9" r="4.10"/><circle cx="105.6" cy="425.8" r="4.10"/><circle cx="105.6" cy="367.8" r="4.10"/><circle cx="105.7" cy="409.3" r="4.10"/><circle cx="105.7" cy="392.7" r="4.10"/><circle cx="106.8" cy="434.1" r="4.10"/><circle cx="106.8" cy="401.0" r="4.10"/><circle cx="106.9" cy="459.0" r="4.10"/><circle cx="107.7" cy="384.4" r="4.10"/><circle cx="107.7" cy="376.1" r="4.10"/></g>
<g class="pt" stroke-width="0.90"><circle cx="108.9" cy="467.3" r="4.10"/><circle cx="108.9" cy="459.0" r="4.10"/><circle cx="110.1" cy="425.8" r="4.10"/><circle cx="110.2" cy="434.1" r="4.10"/><circle cx="110.3" cy="351.2" r="4.10"/><circle cx="110.7" cy="334.6" r="4.10"/><circle cx="111.0" cy="417.5" r="4.10"/><circle cx="111.5" cy="450.7" r="4.10"/><circle cx="112.2" cy="467.3" r="4.10"/><circle cx="112.8" cy="442.4" r="4.10"/><circle cx="113.0" cy="409.3" r="4.10"/><circle cx="114.7" cy="434.1" r="4.10"/><circle cx="114.9" cy="459.0" r="4.10"/><circle cx="115.5" cy="442.4" r="4.10"/><circle cx="116.1" cy="351.2" r="4.10"/><circle cx="116.7" cy="467.3" r="4.10"/><circle cx="117.6" cy="318.0" r="4.10"/><circle cx="118.9" cy="425.8" r="4.10"/><circle cx="119.4" cy="450.7" r="4.10"/><circle cx="119.4" cy="442.4" r="4.10"/><circle cx="119.4" cy="351.2" r="4.10"/><circle cx="120.1" cy="401.0" r="4.10"/><circle cx="120.2" cy="326.3" r="4.10"/><circle cx="120.7" cy="467.3" r="4.10"/><circle cx="123.4" cy="450.7" r="4.10"/><circle cx="123.9" cy="442.4" r="4.10"/><circle cx="125.9" cy="409.3" r="4.10"/><circle cx="126.0" cy="450.7" r="4.10"/><circle cx="127.3" cy="425.8" r="4.10"/><circle cx="127.5" cy="417.5" r="4.10"/><circle cx="127.8" cy="392.7" r="4.10"/><circle cx="128.0" cy="409.3" r="4.10"/><circle cx="129.5" cy="384.4" r="4.10"/><circle cx="130.0" cy="450.7" r="4.10"/><circle cx="130.0" cy="425.8" r="4.10"/><circle cx="131.3" cy="467.3" r="4.10"/><circle cx="131.9" cy="434.1" r="4.10"/><circle cx="132.1" cy="459.0" r="4.10"/><circle cx="132.2" cy="284.9" r="4.10"/><circle cx="132.2" cy="268.3" r="4.10"/><circle cx="132.6" cy="450.7" r="4.10"/><circle cx="133.4" cy="342.9" r="4.10"/><circle cx="133.4" cy="318.0" r="4.10"/><circle cx="133.8" cy="401.0" r="4.10"/><circle cx="134.7" cy="392.7" r="4.10"/><circle cx="135.4" cy="417.5" r="4.10"/><circle cx="135.4" cy="409.3" r="4.10"/><circle cx="135.9" cy="434.1" r="4.10"/><circle cx="136.0" cy="425.8" r="4.10"/><circle cx="136.6" cy="450.7" r="4.10"/><circle cx="137.4" cy="467.3" r="4.10"/><circle cx="141.0" cy="367.8" r="4.10"/><circle cx="143.7" cy="351.2" r="4.10"/><circle cx="143.8" cy="442.4" r="4.10"/><circle cx="145.0" cy="401.0" r="4.10"/><circle cx="145.8" cy="425.8" r="4.10"/><circle cx="145.8" cy="392.7" r="4.10"/><circle cx="145.9" cy="450.7" r="4.10"/><circle cx="146.3" cy="301.4" r="4.10"/><circle cx="146.3" cy="276.6" r="4.10"/><circle cx="146.3" cy="376.1" r="4.10"/><circle cx="146.5" cy="467.3" r="4.10"/><circle cx="147.1" cy="442.4" r="4.10"/><circle cx="147.3" cy="459.0" r="4.10"/><circle cx="149.2" cy="309.7" r="4.10"/><circle cx="149.8" cy="425.8" r="4.10"/><circle cx="149.8" cy="392.7" r="4.10"/><circle cx="150.4" cy="442.4" r="4.10"/><circle cx="150.9" cy="409.3" r="4.10"/><circle cx="151.7" cy="417.5" r="4.10"/><circle cx="151.9" cy="367.8" r="4.10"/><circle cx="152.4" cy="425.8" r="4.10"/><circle cx="152.9" cy="326.3" r="4.10"/><circle cx="153.2" cy="342.9" r="4.10"/><circle cx="153.7" cy="450.7" r="4.10"/><circle cx="153.7" cy="442.4" r="4.10"/><circle cx="154.8" cy="284.9" r="4.10"/><circle cx="154.8" cy="276.6" r="4.10"/><circle cx="155.0" cy="417.5" r="4.10"/><circle cx="156.4" cy="425.8" r="4.10"/><circle cx="157.0" cy="442.4" r="4.10"/><circle cx="157.5" cy="459.0" r="4.10"/><circle cx="158.3" cy="467.3" r="4.10"/><circle cx="159.0" cy="417.5" r="4.10"/><circle cx="159.8" cy="450.7" r="4.10"/><circle cx="159.8" cy="384.4" r="4.10"/><circle cx="160.3" cy="442.4" r="4.10"/><circle cx="160.5" cy="351.2" r="4.10"/><circle cx="160.5" cy="342.9" r="4.10"/><circle cx="161.8" cy="434.1" r="4.10"/><circle cx="163.1" cy="425.8" r="4.10"/><circle cx="164.3" cy="442.4" r="4.10"/><circle cx="164.8" cy="392.7" r="4.10"/><circle cx="166.3" cy="392.7" r="4.10"/><circle cx="168.2" cy="442.4" r="4.10"/><circle cx="168.4" cy="450.7" r="4.10"/><circle cx="168.4" cy="409.3" r="4.10"/><circle cx="168.4" cy="376.1" r="4.10"/><circle cx="168.9" cy="392.7" r="4.10"/><circle cx="170.2" cy="367.8" r="4.10"/><circle cx="170.3" cy="384.4" r="4.10"/><circle cx="171.5" cy="442.4" r="4.10"/><circle cx="171.7" cy="351.2" r="4.10"/><circle cx="172.8" cy="434.1" r="4.10"/><circle cx="174.2" cy="417.5" r="4.10"/><circle cx="174.8" cy="442.4" r="4.10"/><circle cx="175.6" cy="425.8" r="4.10"/><circle cx="176.1" cy="450.7" r="4.10"/><circle cx="176.1" cy="434.1" r="4.10"/><circle cx="176.8" cy="417.5" r="4.10"/><circle cx="176.9" cy="459.0" r="4.10"/><circle cx="176.9" cy="409.3" r="4.10"/><circle cx="176.9" cy="401.0" r="4.10"/><circle cx="176.9" cy="384.4" r="4.10"/><circle cx="176.9" cy="376.1" r="4.10"/><circle cx="176.9" cy="351.2" r="4.10"/><circle cx="176.9" cy="334.6" r="4.10"/><circle cx="176.9" cy="284.9" r="4.10"/><circle cx="176.9" cy="268.3" r="4.10"/><circle cx="177.4" cy="442.4" r="4.10"/><circle cx="177.4" cy="425.8" r="4.10"/><circle cx="178.5" cy="417.5" r="4.10"/><circle cx="178.5" cy="409.3" r="4.10"/><circle cx="178.5" cy="384.4" r="4.10"/><circle cx="178.5" cy="376.1" r="4.10"/><circle cx="179.8" cy="459.0" r="4.10"/><circle cx="180.4" cy="359.5" r="4.10"/><circle cx="180.4" cy="342.9" r="4.10"/><circle cx="181.3" cy="326.3" r="4.10"/><circle cx="185.5" cy="293.2" r="4.10"/><circle cx="185.7" cy="459.0" r="4.10"/><circle cx="185.7" cy="359.5" r="4.10"/><circle cx="189.0" cy="334.6" r="4.10"/><circle cx="190.6" cy="425.8" r="4.10"/><circle cx="191.0" cy="417.5" r="4.10"/><circle cx="191.0" cy="409.3" r="4.10"/><circle cx="194.6" cy="425.8" r="4.10"/><circle cx="194.7" cy="367.8" r="4.10"/><circle cx="197.6" cy="467.3" r="4.10"/><circle cx="198.3" cy="450.7" r="4.10"/><circle cx="199.3" cy="359.5" r="4.10"/><circle cx="202.0" cy="450.7" r="4.10"/><circle cx="202.0" cy="442.4" r="4.10"/><circle cx="203.9" cy="459.0" r="4.10"/><circle cx="203.9" cy="434.1" r="4.10"/><circle cx="204.2" cy="467.3" r="4.10"/><circle cx="204.9" cy="384.4" r="4.10"/><circle cx="207.0" cy="309.7" r="4.10"/><circle cx="207.2" cy="359.5" r="4.10"/><circle cx="208.4" cy="417.5" r="4.10"/><circle cx="208.4" cy="409.3" r="4.10"/><circle cx="211.8" cy="401.0" r="4.10"/><circle cx="212.1" cy="442.4" r="4.10"/><circle cx="214.1" cy="467.3" r="4.10"/><circle cx="222.9" cy="434.1" r="4.10"/><circle cx="222.9" cy="425.8" r="4.10"/><circle cx="225.6" cy="417.5" r="4.10"/><circle cx="226.0" cy="367.8" r="4.10"/><circle cx="226.2" cy="376.1" r="4.10"/><circle cx="229.3" cy="450.7" r="4.10"/><circle cx="229.3" cy="401.0" r="4.10"/><circle cx="231.2" cy="392.7" r="4.10"/><circle cx="231.2" cy="367.8" r="4.10"/><circle cx="231.5" cy="459.0" r="4.10"/><circle cx="231.6" cy="442.4" r="4.10"/><circle cx="232.2" cy="425.8" r="4.10"/><circle cx="232.6" cy="351.2" r="4.10"/><circle cx="232.6" cy="334.6" r="4.10"/><circle cx="239.8" cy="425.8" r="4.10"/><circle cx="239.8" cy="376.1" r="4.10"/><circle cx="245.8" cy="434.1" r="4.10"/><circle cx="250.6" cy="417.5" r="4.10"/><circle cx="251.0" cy="434.1" r="4.10"/><circle cx="252.3" cy="392.7" r="4.10"/><circle cx="252.7" cy="384.4" r="4.10"/><circle cx="255.6" cy="434.1" r="4.10"/><circle cx="255.7" cy="301.4" r="4.10"/><circle cx="255.7" cy="268.3" r="4.10"/><circle cx="260.5" cy="409.3" r="4.10"/><circle cx="260.5" cy="401.0" r="4.10"/><circle cx="263.2" cy="450.7" r="4.10"/><circle cx="264.4" cy="318.0" r="4.10"/><circle cx="264.9" cy="417.5" r="4.10"/><circle cx="265.1" cy="425.8" r="4.10"/><circle cx="265.1" cy="384.4" r="4.10"/><circle cx="266.4" cy="293.2" r="4.10"/><circle cx="266.4" cy="276.6" r="4.10"/><circle cx="266.6" cy="467.3" r="4.10"/><circle cx="266.6" cy="417.5" r="4.10"/><circle cx="270.2" cy="425.8" r="4.10"/><circle cx="283.4" cy="450.7" r="4.10"/><circle cx="283.4" cy="434.1" r="4.10"/><circle cx="287.3" cy="467.3" r="4.10"/><circle cx="287.3" cy="450.7" r="4.10"/><circle cx="287.3" cy="434.1" r="4.10"/><circle cx="287.5" cy="309.7" r="4.10"/><circle cx="287.5" cy="301.4" r="4.10"/><circle cx="287.5" cy="235.1" r="4.10"/><circle cx="287.5" cy="226.8" r="4.10"/><circle cx="293.9" cy="467.3" r="4.10"/><circle cx="293.9" cy="442.4" r="4.10"/><circle cx="297.8" cy="434.1" r="4.10"/><circle cx="309.1" cy="417.5" r="4.10"/><circle cx="309.1" cy="367.8" r="4.10"/><circle cx="309.3" cy="376.1" r="4.10"/><circle cx="312.3" cy="442.4" r="4.10"/><circle cx="314.0" cy="450.7" r="4.10"/><circle cx="314.6" cy="442.4" r="4.10"/><circle cx="314.6" cy="434.1" r="4.10"/><circle cx="321.2" cy="442.4" r="4.10"/><circle cx="329.2" cy="417.5" r="4.10"/><circle cx="329.2" cy="392.7" r="4.10"/><circle cx="331.1" cy="434.1" r="4.10"/><circle cx="333.0" cy="334.6" r="4.10"/><circle cx="333.0" cy="326.3" r="4.10"/><circle cx="333.8" cy="401.0" r="4.10"/><circle cx="334.1" cy="425.8" r="4.10"/><circle cx="344.0" cy="442.4" r="4.10"/><circle cx="344.9" cy="376.1" r="4.10"/><circle cx="347.3" cy="384.4" r="4.10"/><circle cx="354.5" cy="442.4" r="4.10"/><circle cx="354.6" cy="425.8" r="4.10"/><circle cx="357.8" cy="467.3" r="4.10"/><circle cx="359.2" cy="434.1" r="4.10"/><circle cx="363.9" cy="417.5" r="4.10"/><circle cx="375.8" cy="318.0" r="4.10"/><circle cx="375.8" cy="293.2" r="4.10"/><circle cx="378.3" cy="417.5" r="4.10"/><circle cx="379.2" cy="434.1" r="4.10"/><circle cx="379.9" cy="425.8" r="4.10"/><circle cx="380.3" cy="417.5" r="4.10"/><circle cx="383.2" cy="442.4" r="4.10"/><circle cx="398.1" cy="450.7" r="4.10"/><circle cx="399.4" cy="442.4" r="4.10"/><circle cx="400.7" cy="417.5" r="4.10"/><circle cx="400.7" cy="392.7" r="4.10"/><circle cx="401.4" cy="351.2" r="4.10"/><circle cx="402.0" cy="450.7" r="4.10"/><circle cx="402.0" cy="434.1" r="4.10"/><circle cx="411.0" cy="434.1" r="4.10"/><circle cx="411.3" cy="384.4" r="4.10"/><circle cx="411.3" cy="351.2" r="4.10"/><circle cx="416.3" cy="434.1" r="4.10"/><circle cx="416.3" cy="401.0" r="4.10"/><circle cx="418.5" cy="467.3" r="4.10"/><circle cx="422.5" cy="442.4" r="4.10"/><circle cx="423.4" cy="392.7" r="4.10"/><circle cx="423.4" cy="367.8" r="4.10"/><circle cx="434.4" cy="450.7" r="4.10"/><circle cx="440.9" cy="450.7" r="4.10"/><circle cx="462.3" cy="425.8" r="4.10"/><circle cx="464.4" cy="326.3" r="4.10"/><circle cx="464.5" cy="318.0" r="4.10"/><circle cx="473.9" cy="376.1" r="4.10"/><circle cx="490.1" cy="450.7" r="4.10"/><circle cx="490.1" cy="425.8" r="4.10"/><circle cx="494.5" cy="342.9" r="4.10"/><circle cx="494.5" cy="334.6" r="4.10"/><circle cx="508.4" cy="425.8" r="4.10"/><circle cx="532.6" cy="450.7" r="4.10"/><circle cx="544.7" cy="467.3" r="4.10"/><circle cx="545.0" cy="417.5" r="4.10"/><circle cx="545.0" cy="409.3" r="4.10"/><circle cx="559.2" cy="450.7" r="4.10"/><circle cx="560.6" cy="434.1" r="4.10"/><circle cx="560.6" cy="401.0" r="4.10"/><circle cx="567.8" cy="442.4" r="4.10"/><circle cx="576.9" cy="351.2" r="4.10"/><circle cx="576.9" cy="326.3" r="4.10"/><circle cx="612.5" cy="401.0" r="4.10"/></g>
</g>
<path class="ax" stroke-width="2.00" stroke-linejoin="miter" d="M82.0,10.20 V467.3 H648.70"/>
<path class="ax" stroke-width="1.75" d="M647.8,10.40 V468.30"/>
<path class="ax" stroke-width="1.60" d="M125.52,467.3 v-4.60 M169.05,467.3 v-9.00 M212.57,467.3 v-4.60 M256.09,467.3 v-9.00 M299.62,467.3 v-4.60 M343.14,467.3 v-9.00 M386.66,467.3 v-4.60 M430.18,467.3 v-9.00 M473.71,467.3 v-4.60 M517.23,467.3 v-9.00 M560.75,467.3 v-4.60 M604.28,467.3 v-9.00 M82.0,434.72 h4.60 M82.0,402.14 h9.00 M82.0,369.56 h4.60 M82.0,336.99 h9.00 M82.0,304.41 h4.60 M82.0,271.83 h9.00 M82.0,239.25 h4.60 M82.0,206.67 h9.00 M82.0,174.09 h4.60 M82.0,141.51 h9.00 M82.0,108.94 h4.60 M82.0,76.36 h9.00 M82.0,43.78 h4.60 M82.0,11.20 h9.00 M647.8,425.84 h-9.00 M647.8,342.91 h-9.00 M647.8,384.37 h-4.60 M647.8,259.98 h-9.00 M647.8,301.45 h-4.60 M647.8,177.05 h-9.00 M647.8,218.52 h-4.60 M647.8,94.13 h-9.00 M647.8,135.59 h-4.60 M647.8,11.20 h-9.00 M647.8,52.66 h-4.60"/>
<text transform="translate(82.60,495.90) scale(0.9360,1)" font-size="25.30" text-anchor="middle">0</text>
<text transform="translate(169.65,495.90) scale(0.9360,1)" font-size="25.30" text-anchor="middle">2</text>
<text transform="translate(256.69,495.90) scale(0.9360,1)" font-size="25.30" text-anchor="middle">4</text>
<text transform="translate(343.74,495.90) scale(0.9360,1)" font-size="25.30" text-anchor="middle">6</text>
<text transform="translate(430.78,495.90) scale(0.9360,1)" font-size="25.30" text-anchor="middle">8</text>
<text transform="translate(517.83,495.90) scale(0.9360,1)" font-size="25.30" text-anchor="middle">10</text>
<text transform="translate(604.88,495.90) scale(0.9360,1)" font-size="25.30" text-anchor="middle">12</text>
<text transform="translate(71.80,474.80) scale(0.9360,1)" font-size="25.30" text-anchor="end">0.00</text>
<text transform="translate(71.80,409.64) scale(0.9360,1)" font-size="25.30" text-anchor="end">0.05</text>
<text transform="translate(71.80,344.49) scale(0.9360,1)" font-size="25.30" text-anchor="end">0.10</text>
<text transform="translate(71.80,279.33) scale(0.9360,1)" font-size="25.30" text-anchor="end">0.15</text>
<text transform="translate(71.80,214.17) scale(0.9360,1)" font-size="25.30" text-anchor="end">0.20</text>
<text transform="translate(71.80,149.01) scale(0.9360,1)" font-size="25.30" text-anchor="end">0.25</text>
<text transform="translate(71.80,83.86) scale(0.9360,1)" font-size="25.30" text-anchor="end">0.30</text>
<text transform="translate(71.80,18.70) scale(0.9360,1)" font-size="25.30" text-anchor="end">0.35</text>
<text transform="translate(657.40,433.34) scale(0.9360,1)" font-size="25.30">50</text>
<text transform="translate(657.40,350.41) scale(0.9360,1)" font-size="25.30">60</text>
<text transform="translate(657.40,267.48) scale(0.9360,1)" font-size="25.30">70</text>
<text transform="translate(657.40,184.55) scale(0.9360,1)" font-size="25.30">80</text>
<text transform="translate(657.40,101.63) scale(0.9360,1)" font-size="25.30">90</text>
<text transform="translate(657.40,18.70) scale(0.9360,1)" font-size="25.30">100</text>
<text transform="translate(358.50,517.30)" font-size="28.00" text-anchor="middle">time/h</text>
<text transform="translate(22.30,261.00) rotate(-90) scale(0.9470,1)" font-size="29.50" text-anchor="middle">axial strain/10<tspan font-size="15.00" dy="-10.50">-2</tspan></text>
<text transform="translate(706.40,260.60) rotate(-90) scale(0.9470,1)" font-size="29.50" text-anchor="middle">amplitude/dB</text>
<path class="cv" stroke-width="2.30" d="M106.8,38.5 H160.6"/>
<circle class="pt" stroke-width="0.90" cx="133.6" cy="67.8" r="4.10"/>
<text transform="translate(167.50,45.00)" font-size="28.00">axial strain</text>
<text transform="translate(167.50,73.00)" font-size="28.00">amplitude</text>
<text transform="translate(317.00,565.00)" font-size="42.50" text-anchor="middle" class="lb">(a)</text>
</g>
<g id="chart-b">
<clipPath id="clip-b"><rect x="915.2" y="34.0" width="539.0" height="436.0"/></clipPath>
<g clip-path="url(#clip-b)">
<path class="cv" stroke-width="2.19" d="M917.5,300 L918.2,252 L919,200 L919.9,140 L920.5,118 L921.5,110 L924,105.5 L930,103.5 L960,101.5 L1000,100.2 L1100,98.3 L1200,97 L1300,96.2 L1415.4,95.6"/>
<g class="pt pn" stroke-width="0.95"><circle cx="915.2" cy="470.0" r="3.90"/><circle cx="915.2" cy="463.3" r="3.90"/><circle cx="915.2" cy="456.6" r="3.90"/><circle cx="915.2" cy="450.0" r="3.90"/><circle cx="915.2" cy="443.3" r="3.90"/><circle cx="915.2" cy="436.6" r="3.90"/><circle cx="915.2" cy="429.9" r="3.90"/><circle cx="915.2" cy="423.3" r="3.90"/><circle cx="915.2" cy="416.6" r="3.90"/><circle cx="915.2" cy="409.9" r="3.90"/><circle cx="915.2" cy="403.2" r="3.90"/><circle cx="915.2" cy="396.6" r="3.90"/><circle cx="915.2" cy="389.9" r="3.90"/><circle cx="915.2" cy="383.2" r="3.90"/><circle cx="915.2" cy="376.5" r="3.90"/><circle cx="915.2" cy="369.8" r="3.90"/><circle cx="915.2" cy="363.2" r="3.90"/><circle cx="915.2" cy="356.5" r="3.90"/><circle cx="915.2" cy="349.8" r="3.90"/><circle cx="915.2" cy="343.1" r="3.90"/><circle cx="915.2" cy="336.5" r="3.90"/><circle cx="915.2" cy="329.8" r="3.90"/><circle cx="915.2" cy="323.1" r="3.90"/><circle cx="915.2" cy="316.4" r="3.90"/><circle cx="915.2" cy="309.8" r="3.90"/><circle cx="915.2" cy="303.1" r="3.90"/><circle cx="915.2" cy="296.4" r="3.90"/><circle cx="915.2" cy="289.7" r="3.90"/><circle cx="915.2" cy="283.0" r="3.90"/><circle cx="915.2" cy="276.4" r="3.90"/><circle cx="915.2" cy="269.7" r="3.90"/><circle cx="915.2" cy="263.0" r="3.90"/><circle cx="915.2" cy="249.7" r="3.90"/><circle cx="915.2" cy="243.0" r="3.90"/><circle cx="915.2" cy="236.3" r="3.90"/><circle cx="915.5" cy="470.0" r="3.90"/><circle cx="915.5" cy="463.3" r="3.90"/><circle cx="915.5" cy="456.6" r="3.90"/><circle cx="915.5" cy="450.0" r="3.90"/><circle cx="915.5" cy="443.3" r="3.90"/><circle cx="915.5" cy="436.6" r="3.90"/><circle cx="915.5" cy="429.9" r="3.90"/><circle cx="915.5" cy="423.3" r="3.90"/><circle cx="915.5" cy="416.6" r="3.90"/><circle cx="915.5" cy="409.9" r="3.90"/><circle cx="915.5" cy="403.2" r="3.90"/><circle cx="915.5" cy="396.6" r="3.90"/><circle cx="915.5" cy="389.9" r="3.90"/><circle cx="915.5" cy="383.2" r="3.90"/><circle cx="915.5" cy="376.5" r="3.90"/><circle cx="915.5" cy="369.8" r="3.90"/><circle cx="915.5" cy="363.2" r="3.90"/><circle cx="915.5" cy="356.5" r="3.90"/><circle cx="915.5" cy="349.8" r="3.90"/><circle cx="915.5" cy="343.1" r="3.90"/><circle cx="915.5" cy="336.5" r="3.90"/><circle cx="915.5" cy="329.8" r="3.90"/><circle cx="915.5" cy="323.1" r="3.90"/><circle cx="915.5" cy="316.4" r="3.90"/><circle cx="915.5" cy="309.8" r="3.90"/><circle cx="915.5" cy="303.1" r="3.90"/><circle cx="915.5" cy="296.4" r="3.90"/><circle cx="915.5" cy="289.7" r="3.90"/><circle cx="915.5" cy="283.0" r="3.90"/><circle cx="915.5" cy="276.4" r="3.90"/><circle cx="915.5" cy="269.7" r="3.90"/><circle cx="915.5" cy="263.0" r="3.90"/><circle cx="915.5" cy="249.7" r="3.90"/><circle cx="915.5" cy="243.0" r="3.90"/><circle cx="915.5" cy="236.3" r="3.90"/><circle cx="915.8" cy="470.0" r="3.90"/><circle cx="915.8" cy="463.3" r="3.90"/><circle cx="915.8" cy="456.6" r="3.90"/><circle cx="915.8" cy="450.0" r="3.90"/><circle cx="915.8" cy="443.3" r="3.90"/><circle cx="915.8" cy="436.6" r="3.90"/><circle cx="915.8" cy="429.9" r="3.90"/><circle cx="915.8" cy="423.3" r="3.90"/><circle cx="915.8" cy="416.6" r="3.90"/><circle cx="915.8" cy="409.9" r="3.90"/><circle cx="915.8" cy="403.2" r="3.90"/><circle cx="915.8" cy="396.6" r="3.90"/><circle cx="915.8" cy="389.9" r="3.90"/><circle cx="915.8" cy="383.2" r="3.90"/><circle cx="915.8" cy="376.5" r="3.90"/><circle cx="915.8" cy="369.8" r="3.90"/><circle cx="915.8" cy="363.2" r="3.90"/><circle cx="915.8" cy="356.5" r="3.90"/><circle cx="915.8" cy="349.8" r="3.90"/><circle cx="915.8" cy="343.1" r="3.90"/><circle cx="915.8" cy="336.5" r="3.90"/><circle cx="915.8" cy="329.8" r="3.90"/><circle cx="915.8" cy="323.1" r="3.90"/><circle cx="915.8" cy="316.4" r="3.90"/><circle cx="915.8" cy="309.8" r="3.90"/><circle cx="915.8" cy="303.1" r="3.90"/><circle cx="915.8" cy="296.4" r="3.90"/><circle cx="915.8" cy="289.7" r="3.90"/><circle cx="915.8" cy="283.0" r="3.90"/><circle cx="915.8" cy="276.4" r="3.90"/><circle cx="915.8" cy="269.7" r="3.90"/><circle cx="915.8" cy="263.0" r="3.90"/><circle cx="915.8" cy="249.7" r="3.90"/><circle cx="915.8" cy="243.0" r="3.90"/><circle cx="915.8" cy="236.3" r="3.90"/><circle cx="916.1" cy="470.0" r="3.90"/><circle cx="916.1" cy="463.3" r="3.90"/><circle cx="916.1" cy="456.6" r="3.90"/><circle cx="916.1" cy="450.0" r="3.90"/><circle cx="916.1" cy="443.3" r="3.90"/><circle cx="916.1" cy="436.6" r="3.90"/><circle cx="916.1" cy="429.9" r="3.90"/><circle cx="916.1" cy="423.3" r="3.90"/><circle cx="916.1" cy="416.6" r="3.90"/><circle cx="916.1" cy="409.9" r="3.90"/><circle cx="916.1" cy="403.2" r="3.90"/><circle cx="916.1" cy="396.6" r="3.90"/><circle cx="916.1" cy="389.9" r="3.90"/><circle cx="916.1" cy="383.2" r="3.90"/><circle cx="916.1" cy="376.5" r="3.90"/><circle cx="916.1" cy="369.8" r="3.90"/><circle cx="916.1" cy="363.2" r="3.90"/><circle cx="916.1" cy="356.5" r="3.90"/><circle cx="916.1" cy="349.8" r="3.90"/><circle cx="916.1" cy="343.1" r="3.90"/><circle cx="916.1" cy="336.5" r="3.90"/><circle cx="916.1" cy="329.8" r="3.90"/><circle cx="916.1" cy="323.1" r="3.90"/><circle cx="916.1" cy="316.4" r="3.90"/><circle cx="916.1" cy="309.8" r="3.90"/><circle cx="916.1" cy="303.1" r="3.90"/><circle cx="916.1" cy="296.4" r="3.90"/><circle cx="916.1" cy="289.7" r="3.90"/><circle cx="916.1" cy="283.0" r="3.90"/><circle cx="916.1" cy="276.4" r="3.90"/><circle cx="916.1" cy="269.7" r="3.90"/><circle cx="916.1" cy="263.0" r="3.90"/><circle cx="916.1" cy="249.7" r="3.90"/><circle cx="916.1" cy="243.0" r="3.90"/><circle cx="916.1" cy="236.3" r="3.90"/><circle cx="916.4" cy="470.0" r="3.90"/><circle cx="916.4" cy="463.3" r="3.90"/><circle cx="916.4" cy="456.6" r="3.90"/><circle cx="916.4" cy="450.0" r="3.90"/><circle cx="916.4" cy="443.3" r="3.90"/><circle cx="916.4" cy="436.6" r="3.90"/><circle cx="916.4" cy="429.9" r="3.90"/><circle cx="916.4" cy="423.3" r="3.90"/><circle cx="916.4" cy="416.6" r="3.90"/><circle cx="916.4" cy="409.9" r="3.90"/><circle cx="916.4" cy="403.2" r="3.90"/><circle cx="916.4" cy="396.6" r="3.90"/><circle cx="916.4" cy="389.9" r="3.90"/><circle cx="916.4" cy="383.2" r="3.90"/><circle cx="916.4" cy="376.5" r="3.90"/><circle cx="916.4" cy="369.8" r="3.90"/><circle cx="916.4" cy="363.2" r="3.90"/><circle cx="916.4" cy="356.5" r="3.90"/><circle cx="916.4" cy="349.8" r="3.90"/><circle cx="916.4" cy="343.1" r="3.90"/><circle cx="916.4" cy="336.5" r="3.90"/><circle cx="916.4" cy="329.8" r="3.90"/><circle cx="916.4" cy="323.1" r="3.90"/><circle cx="916.4" cy="316.4" r="3.90"/><circle cx="916.4" cy="309.8" r="3.90"/><circle cx="916.4" cy="303.1" r="3.90"/><circle cx="916.4" cy="296.4" r="3.90"/><circle cx="916.4" cy="289.7" r="3.90"/><circle cx="916.4" cy="283.0" r="3.90"/><circle cx="916.4" cy="276.4" r="3.90"/><circle cx="916.4" cy="269.7" r="3.90"/><circle cx="916.4" cy="263.0" r="3.90"/><circle cx="916.4" cy="249.7" r="3.90"/><circle cx="916.4" cy="243.0" r="3.90"/><circle cx="916.4" cy="236.3" r="3.90"/><circle cx="916.7" cy="470.0" r="3.90"/><circle cx="916.7" cy="463.3" r="3.90"/><circle cx="916.7" cy="456.6" r="3.90"/><circle cx="916.7" cy="450.0" r="3.90"/><circle cx="916.7" cy="443.3" r="3.90"/><circle cx="916.7" cy="436.6" r="3.90"/><circle cx="916.7" cy="429.9" r="3.90"/><circle cx="916.7" cy="423.3" r="3.90"/><circle cx="916.7" cy="416.6" r="3.90"/><circle cx="916.7" cy="409.9" r="3.90"/><circle cx="916.7" cy="403.2" r="3.90"/><circle cx="916.7" cy="396.6" r="3.90"/><circle cx="916.7" cy="389.9" r="3.90"/><circle cx="916.7" cy="383.2" r="3.90"/><circle cx="916.7" cy="376.5" r="3.90"/><circle cx="916.7" cy="369.8" r="3.90"/><circle cx="916.7" cy="363.2" r="3.90"/><circle cx="916.7" cy="356.5" r="3.90"/><circle cx="916.7" cy="349.8" r="3.90"/><circle cx="916.7" cy="343.1" r="3.90"/><circle cx="916.7" cy="336.5" r="3.90"/><circle cx="916.7" cy="329.8" r="3.90"/><circle cx="916.7" cy="323.1" r="3.90"/><circle cx="916.7" cy="316.4" r="3.90"/><circle cx="916.7" cy="309.8" r="3.90"/><circle cx="916.7" cy="303.1" r="3.90"/><circle cx="916.7" cy="296.4" r="3.90"/><circle cx="916.7" cy="289.7" r="3.90"/><circle cx="916.7" cy="283.0" r="3.90"/><circle cx="916.7" cy="276.4" r="3.90"/><circle cx="916.7" cy="269.7" r="3.90"/><circle cx="916.7" cy="263.0" r="3.90"/><circle cx="916.7" cy="249.7" r="3.90"/><circle cx="916.7" cy="243.0" r="3.90"/><circle cx="916.7" cy="236.3" r="3.90"/><circle cx="917.0" cy="470.0" r="3.90"/><circle cx="917.0" cy="463.3" r="3.90"/><circle cx="917.0" cy="456.6" r="3.90"/><circle cx="917.0" cy="450.0" r="3.90"/><circle cx="917.0" cy="443.3" r="3.90"/><circle cx="917.0" cy="436.6" r="3.90"/><circle cx="917.0" cy="429.9" r="3.90"/><circle cx="917.0" cy="423.3" r="3.90"/><circle cx="917.0" cy="416.6" r="3.90"/><circle cx="917.0" cy="409.9" r="3.90"/><circle cx="917.0" cy="403.2" r="3.90"/><circle cx="917.0" cy="396.6" r="3.90"/><circle cx="917.0" cy="389.9" r="3.90"/><circle cx="917.0" cy="383.2" r="3.90"/><circle cx="917.0" cy="376.5" r="3.90"/><circle cx="917.0" cy="369.8" r="3.90"/><circle cx="917.0" cy="363.2" r="3.90"/><circle cx="917.0" cy="356.5" r="3.90"/><circle cx="917.0" cy="349.8" r="3.90"/><circle cx="917.0" cy="343.1" r="3.90"/><circle cx="917.0" cy="336.5" r="3.90"/><circle cx="917.0" cy="329.8" r="3.90"/><circle cx="917.0" cy="323.1" r="3.90"/><circle cx="917.0" cy="316.4" r="3.90"/><circle cx="917.0" cy="309.8" r="3.90"/><circle cx="917.0" cy="303.1" r="3.90"/><circle cx="917.0" cy="296.4" r="3.90"/><circle cx="917.0" cy="289.7" r="3.90"/><circle cx="917.0" cy="283.0" r="3.90"/><circle cx="917.0" cy="276.4" r="3.90"/><circle cx="917.0" cy="269.7" r="3.90"/><circle cx="917.0" cy="263.0" r="3.90"/><circle cx="917.0" cy="249.7" r="3.90"/><circle cx="917.0" cy="243.0" r="3.90"/><circle cx="917.0" cy="236.3" r="3.90"/><circle cx="917.3" cy="470.0" r="3.90"/><circle cx="917.3" cy="463.3" r="3.90"/><circle cx="917.3" cy="456.6" r="3.90"/><circle cx="917.3" cy="450.0" r="3.90"/><circle cx="917.3" cy="443.3" r="3.90"/><circle cx="917.3" cy="436.6" r="3.90"/><circle cx="917.3" cy="429.9" r="3.90"/><circle cx="917.3" cy="423.3" r="3.90"/><circle cx="917.3" cy="416.6" r="3.90"/><circle cx="917.3" cy="409.9" r="3.90"/><circle cx="917.3" cy="403.2" r="3.90"/><circle cx="917.3" cy="396.6" r="3.90"/><circle cx="917.3" cy="389.9" r="3.90"/><circle cx="917.3" cy="383.2" r="3.90"/><circle cx="917.3" cy="376.5" r="3.90"/><circle cx="917.3" cy="369.8" r="3.90"/><circle cx="917.3" cy="363.2" r="3.90"/><circle cx="917.3" cy="356.5" r="3.90"/><circle cx="917.3" cy="349.8" r="3.90"/><circle cx="917.3" cy="343.1" r="3.90"/><circle cx="917.3" cy="336.5" r="3.90"/><circle cx="917.3" cy="329.8" r="3.90"/><circle cx="917.3" cy="323.1" r="3.90"/><circle cx="917.3" cy="316.4" r="3.90"/><circle cx="917.3" cy="309.8" r="3.90"/><circle cx="917.3" cy="303.1" r="3.90"/><circle cx="917.3" cy="296.4" r="3.90"/><circle cx="917.3" cy="289.7" r="3.90"/><circle cx="917.3" cy="283.0" r="3.90"/><circle cx="917.3" cy="276.4" r="3.90"/><circle cx="917.3" cy="269.7" r="3.90"/><circle cx="917.3" cy="263.0" r="3.90"/><circle cx="917.3" cy="249.7" r="3.90"/><circle cx="917.3" cy="243.0" r="3.90"/><circle cx="917.3" cy="236.3" r="3.90"/><circle cx="917.6" cy="470.0" r="3.90"/><circle cx="917.6" cy="463.3" r="3.90"/><circle cx="917.6" cy="456.6" r="3.90"/><circle cx="917.6" cy="450.0" r="3.90"/><circle cx="917.6" cy="443.3" r="3.90"/><circle cx="917.6" cy="436.6" r="3.90"/><circle cx="917.6" cy="429.9" r="3.90"/><circle cx="917.6" cy="423.3" r="3.90"/><circle cx="917.6" cy="416.6" r="3.90"/><circle cx="917.6" cy="409.9" r="3.90"/><circle cx="917.6" cy="403.2" r="3.90"/><circle cx="917.6" cy="396.6" r="3.90"/><circle cx="917.6" cy="389.9" r="3.90"/><circle cx="917.6" cy="383.2" r="3.90"/><circle cx="917.6" cy="376.5" r="3.90"/><circle cx="917.6" cy="369.8" r="3.90"/><circle cx="917.6" cy="363.2" r="3.90"/><circle cx="917.6" cy="356.5" r="3.90"/><circle cx="917.6" cy="349.8" r="3.90"/><circle cx="917.6" cy="343.1" r="3.90"/><circle cx="917.6" cy="336.5" r="3.90"/><circle cx="917.6" cy="329.8" r="3.90"/><circle cx="917.6" cy="323.1" r="3.90"/><circle cx="917.6" cy="316.4" r="3.90"/><circle cx="917.6" cy="309.8" r="3.90"/><circle cx="917.6" cy="303.1" r="3.90"/><circle cx="917.6" cy="296.4" r="3.90"/><circle cx="917.6" cy="289.7" r="3.90"/><circle cx="917.6" cy="283.0" r="3.90"/><circle cx="917.6" cy="276.4" r="3.90"/><circle cx="917.6" cy="269.7" r="3.90"/><circle cx="917.6" cy="263.0" r="3.90"/><circle cx="917.6" cy="249.7" r="3.90"/><circle cx="917.6" cy="243.0" r="3.90"/><circle cx="917.6" cy="236.3" r="3.90"/><circle cx="917.9" cy="470.0" r="3.90"/><circle cx="917.9" cy="463.3" r="3.90"/><circle cx="917.9" cy="456.6" r="3.90"/><circle cx="917.9" cy="450.0" r="3.90"/><circle cx="917.9" cy="443.3" r="3.90"/><circle cx="917.9" cy="436.6" r="3.90"/><circle cx="917.9" cy="429.9" r="3.90"/><circle cx="917.9" cy="423.3" r="3.90"/><circle cx="917.9" cy="416.6" r="3.90"/><circle cx="917.9" cy="409.9" r="3.90"/><circle cx="917.9" cy="403.2" r="3.90"/><circle cx="917.9" cy="396.6" r="3.90"/><circle cx="917.9" cy="389.9" r="3.90"/><circle cx="917.9" cy="383.2" r="3.90"/><circle cx="917.9" cy="376.5" r="3.90"/><circle cx="917.9" cy="369.8" r="3.90"/><circle cx="917.9" cy="363.2" r="3.90"/><circle cx="917.9" cy="356.5" r="3.90"/><circle cx="917.9" cy="349.8" r="3.90"/><circle cx="917.9" cy="336.5" r="3.90"/><circle cx="917.9" cy="329.8" r="3.90"/><circle cx="917.9" cy="323.1" r="3.90"/><circle cx="917.9" cy="316.4" r="3.90"/><circle cx="917.9" cy="309.8" r="3.90"/><circle cx="917.9" cy="303.1" r="3.90"/><circle cx="917.9" cy="296.4" r="3.90"/><circle cx="917.9" cy="289.7" r="3.90"/><circle cx="917.9" cy="283.0" r="3.90"/><circle cx="917.9" cy="276.4" r="3.90"/><circle cx="917.9" cy="269.7" r="3.90"/><circle cx="917.9" cy="263.0" r="3.90"/><circle cx="917.9" cy="249.7" r="3.90"/><circle cx="917.9" cy="243.0" r="3.90"/><circle cx="917.9" cy="236.3" r="3.90"/><circle cx="917.9" cy="343.1" r="3.90"/><circle cx="918.2" cy="470.0" r="3.90"/><circle cx="918.2" cy="463.3" r="3.90"/><circle cx="918.2" cy="456.6" r="3.90"/><circle cx="918.2" cy="450.0" r="3.90"/><circle cx="918.2" cy="443.3" r="3.90"/><circle cx="918.2" cy="436.6" r="3.90"/><circle cx="918.2" cy="429.9" r="3.90"/><circle cx="918.2" cy="423.3" r="3.90"/><circle cx="918.2" cy="416.6" r="3.90"/><circle cx="918.2" cy="409.9" r="3.90"/><circle cx="918.2" cy="403.2" r="3.90"/><circle cx="918.2" cy="396.6" r="3.90"/><circle cx="918.2" cy="389.9" r="3.90"/><circle cx="918.2" cy="383.2" r="3.90"/><circle cx="918.2" cy="376.5" r="3.90"/><circle cx="918.2" cy="369.8" r="3.90"/><circle cx="918.2" cy="363.2" r="3.90"/><circle cx="918.2" cy="356.5" r="3.90"/><circle cx="918.2" cy="349.8" r="3.90"/><circle cx="918.2" cy="336.5" r="3.90"/><circle cx="918.2" cy="329.8" r="3.90"/><circle cx="918.2" cy="323.1" r="3.90"/><circle cx="918.2" cy="316.4" r="3.90"/><circle cx="918.2" cy="309.8" r="3.90"/><circle cx="918.2" cy="303.1" r="3.90"/><circle cx="918.2" cy="296.4" r="3.90"/><circle cx="918.2" cy="289.7" r="3.90"/><circle cx="918.2" cy="283.0" r="3.90"/><circle cx="918.2" cy="276.4" r="3.90"/><circle cx="918.2" cy="269.7" r="3.90"/><circle cx="918.2" cy="263.0" r="3.90"/><circle cx="918.2" cy="249.7" r="3.90"/><circle cx="918.2" cy="243.0" r="3.90"/><circle cx="918.2" cy="236.3" r="3.90"/><circle cx="918.5" cy="470.0" r="3.90"/><circle cx="918.5" cy="463.3" r="3.90"/><circle cx="918.5" cy="456.6" r="3.90"/><circle cx="918.5" cy="450.0" r="3.90"/><circle cx="918.5" cy="443.3" r="3.90"/><circle cx="918.5" cy="436.6" r="3.90"/><circle cx="918.5" cy="429.9" r="3.90"/><circle cx="918.5" cy="423.3" r="3.90"/><circle cx="918.5" cy="416.6" r="3.90"/><circle cx="918.5" cy="409.9" r="3.90"/><circle cx="918.5" cy="403.2" r="3.90"/><circle cx="918.5" cy="396.6" r="3.90"/><circle cx="918.5" cy="389.9" r="3.90"/><circle cx="918.5" cy="383.2" r="3.90"/><circle cx="918.5" cy="376.5" r="3.90"/><circle cx="918.5" cy="369.8" r="3.90"/><circle cx="918.5" cy="363.2" r="3.90"/><circle cx="918.5" cy="349.8" r="3.90"/><circle cx="918.5" cy="336.5" r="3.90"/><circle cx="918.5" cy="329.8" r="3.90"/><circle cx="918.5" cy="323.1" r="3.90"/><circle cx="918.5" cy="316.4" r="3.90"/><circle cx="918.5" cy="309.8" r="3.90"/><circle cx="918.5" cy="296.4" r="3.90"/><circle cx="918.5" cy="289.7" r="3.90"/><circle cx="918.5" cy="283.0" r="3.90"/><circle cx="918.5" cy="276.4" r="3.90"/><circle cx="918.5" cy="269.7" r="3.90"/><circle cx="918.5" cy="263.0" r="3.90"/><circle cx="918.5" cy="249.7" r="3.90"/><circle cx="918.5" cy="243.0" r="3.90"/><circle cx="918.5" cy="236.3" r="3.90"/><circle cx="918.6" cy="356.5" r="3.90"/><circle cx="918.6" cy="303.1" r="3.90"/><circle cx="918.8" cy="470.0" r="3.90"/><circle cx="918.8" cy="463.3" r="3.90"/><circle cx="918.8" cy="456.6" r="3.90"/><circle cx="918.8" cy="450.0" r="3.90"/><circle cx="918.8" cy="443.3" r="3.90"/><circle cx="918.8" cy="436.6" r="3.90"/><circle cx="918.8" cy="429.9" r="3.90"/><circle cx="918.8" cy="423.3" r="3.90"/><circle cx="918.8" cy="416.6" r="3.90"/><circle cx="918.8" cy="409.9" r="3.90"/><circle cx="918.8" cy="403.2" r="3.90"/><circle cx="918.8" cy="396.6" r="3.90"/><circle cx="918.8" cy="389.9" r="3.90"/><circle cx="918.8" cy="383.2" r="3.90"/><circle cx="918.8" cy="376.5" r="3.90"/><circle cx="918.8" cy="369.8" r="3.90"/><circle cx="918.8" cy="363.2" r="3.90"/><circle cx="918.8" cy="349.8" r="3.90"/><circle cx="918.8" cy="336.5" r="3.90"/><circle cx="918.8" cy="329.8" r="3.90"/><circle cx="918.8" cy="323.1" r="3.90"/><circle cx="918.8" cy="316.4" r="3.90"/><circle cx="918.8" cy="309.8" r="3.90"/><circle cx="918.8" cy="296.4" r="3.90"/><circle cx="918.8" cy="289.7" r="3.90"/><circle cx="918.8" cy="283.0" r="3.90"/><circle cx="918.8" cy="276.4" r="3.90"/><circle cx="918.8" cy="269.7" r="3.90"/><circle cx="918.8" cy="263.0" r="3.90"/><circle cx="918.8" cy="249.7" r="3.90"/><circle cx="918.8" cy="243.0" r="3.90"/><circle cx="918.8" cy="236.3" r="3.90"/><circle cx="919.0" cy="156.2" r="3.90"/><circle cx="919.1" cy="470.0" r="3.90"/><circle cx="919.1" cy="463.3" r="3.90"/><circle cx="919.1" cy="456.6" r="3.90"/><circle cx="919.1" cy="450.0" r="3.90"/><circle cx="919.1" cy="443.3" r="3.90"/><circle cx="919.1" cy="436.6" r="3.90"/><circle cx="919.1" cy="429.9" r="3.90"/><circle cx="919.1" cy="423.3" r="3.90"/><circle cx="919.1" cy="416.6" r="3.90"/><circle cx="919.1" cy="409.9" r="3.90"/><circle cx="919.1" cy="403.2" r="3.90"/><circle cx="919.1" cy="396.6" r="3.90"/><circle cx="919.1" cy="383.2" r="3.90"/><circle cx="919.1" cy="376.5" r="3.90"/><circle cx="919.1" cy="369.8" r="3.90"/><circle cx="919.1" cy="363.2" r="3.90"/><circle cx="919.1" cy="349.8" r="3.90"/><circle cx="919.1" cy="336.5" r="3.90"/><circle cx="919.1" cy="329.8" r="3.90"/><circle cx="919.1" cy="323.1" r="3.90"/><circle cx="919.1" cy="309.8" r="3.90"/><circle cx="919.1" cy="283.0" r="3.90"/><circle cx="919.1" cy="276.4" r="3.90"/><circle cx="919.1" cy="269.7" r="3.90"/><circle cx="919.1" cy="263.0" r="3.90"/><circle cx="919.1" cy="249.7" r="3.90"/><circle cx="919.1" cy="243.0" r="3.90"/><circle cx="919.1" cy="236.3" r="3.90"/><circle cx="919.2" cy="423.3" r="3.90"/><circle cx="919.2" cy="389.9" r="3.90"/><circle cx="919.2" cy="316.4" r="3.90"/><circle cx="919.2" cy="296.4" r="3.90"/><circle cx="919.2" cy="289.7" r="3.90"/><circle cx="919.3" cy="343.1" r="3.90"/><circle cx="919.4" cy="470.0" r="3.90"/><circle cx="919.4" cy="463.3" r="3.90"/><circle cx="919.4" cy="456.6" r="3.90"/><circle cx="919.4" cy="450.0" r="3.90"/><circle cx="919.4" cy="443.3" r="3.90"/><circle cx="919.4" cy="436.6" r="3.90"/><circle cx="919.4" cy="429.9" r="3.90"/><circle cx="919.4" cy="423.3" r="3.90"/><circle cx="919.4" cy="416.6" r="3.90"/><circle cx="919.4" cy="409.9" r="3.90"/><circle cx="919.4" cy="403.2" r="3.90"/><circle cx="919.4" cy="396.6" r="3.90"/><circle cx="919.4" cy="383.2" r="3.90"/><circle cx="919.4" cy="376.5" r="3.90"/><circle cx="919.4" cy="369.8" r="3.90"/><circle cx="919.4" cy="363.2" r="3.90"/><circle cx="919.4" cy="349.8" r="3.90"/><circle cx="919.4" cy="336.5" r="3.90"/><circle cx="919.4" cy="329.8" r="3.90"/><circle cx="919.4" cy="323.1" r="3.90"/><circle cx="919.4" cy="309.8" r="3.90"/><circle cx="919.4" cy="276.4" r="3.90"/><circle cx="919.4" cy="263.0" r="3.90"/><circle cx="919.4" cy="243.0" r="3.90"/><circle cx="919.4" cy="236.3" r="3.90"/><circle cx="919.5" cy="283.0" r="3.90"/><circle cx="919.5" cy="269.7" r="3.90"/><circle cx="919.5" cy="249.7" r="3.90"/><circle cx="919.7" cy="470.0" r="3.90"/><circle cx="919.7" cy="463.3" r="3.90"/><circle cx="919.7" cy="456.6" r="3.90"/><circle cx="919.7" cy="450.0" r="3.90"/><circle cx="919.7" cy="443.3" r="3.90"/><circle cx="919.7" cy="436.6" r="3.90"/><circle cx="919.7" cy="429.9" r="3.90"/><circle cx="919.7" cy="423.3" r="3.90"/><circle cx="919.7" cy="416.6" r="3.90"/><circle cx="919.7" cy="409.9" r="3.90"/><circle cx="919.7" cy="403.2" r="3.90"/><circle cx="919.7" cy="396.6" r="3.90"/><circle cx="919.7" cy="383.2" r="3.90"/><circle cx="919.7" cy="369.8" r="3.90"/><circle cx="919.7" cy="349.8" r="3.90"/><circle cx="919.7" cy="336.5" r="3.90"/><circle cx="919.7" cy="329.8" r="3.90"/><circle cx="919.7" cy="309.8" r="3.90"/><circle cx="919.7" cy="243.0" r="3.90"/><circle cx="919.7" cy="236.3" r="3.90"/><circle cx="919.9" cy="409.9" r="3.90"/><circle cx="919.9" cy="396.6" r="3.90"/><circle cx="919.9" cy="376.5" r="3.90"/><circle cx="919.9" cy="323.1" r="3.90"/><circle cx="919.9" cy="276.4" r="3.90"/><circle cx="919.9" cy="263.0" r="3.90"/><circle cx="919.9" cy="363.2" r="3.90"/><circle cx="920.0" cy="470.0" r="3.90"/><circle cx="920.0" cy="463.3" r="3.90"/><circle cx="920.0" cy="456.6" r="3.90"/><circle cx="920.0" cy="450.0" r="3.90"/><circle cx="920.0" cy="443.3" r="3.90"/><circle cx="920.0" cy="436.6" r="3.90"/><circle cx="920.0" cy="429.9" r="3.90"/><circle cx="920.0" cy="423.3" r="3.90"/><circle cx="920.0" cy="416.6" r="3.90"/><circle cx="920.0" cy="409.9" r="3.90"/><circle cx="920.0" cy="403.2" r="3.90"/><circle cx="920.0" cy="396.6" r="3.90"/><circle cx="920.0" cy="383.2" r="3.90"/><circle cx="920.0" cy="369.8" r="3.90"/><circle cx="920.0" cy="349.8" r="3.90"/><circle cx="920.0" cy="336.5" r="3.90"/><circle cx="920.0" cy="329.8" r="3.90"/><circle cx="920.0" cy="309.8" r="3.90"/><circle cx="920.0" cy="243.0" r="3.90"/><circle cx="920.3" cy="236.3" r="3.90"/><circle cx="920.3" cy="470.0" r="3.90"/><circle cx="920.3" cy="463.3" r="3.90"/><circle cx="920.3" cy="456.6" r="3.90"/><circle cx="920.3" cy="450.0" r="3.90"/><circle cx="920.3" cy="443.3" r="3.90"/><circle cx="920.3" cy="436.6" r="3.90"/><circle cx="920.3" cy="429.9" r="3.90"/><circle cx="920.3" cy="423.3" r="3.90"/><circle cx="920.3" cy="416.6" r="3.90"/><circle cx="920.3" cy="409.9" r="3.90"/><circle cx="920.3" cy="403.2" r="3.90"/><circle cx="920.3" cy="396.6" r="3.90"/><circle cx="920.3" cy="383.2" r="3.90"/><circle cx="920.3" cy="349.8" r="3.90"/><circle cx="920.3" cy="309.8" r="3.90"/><circle cx="920.3" cy="243.0" r="3.90"/><circle cx="920.6" cy="369.8" r="3.90"/><circle cx="920.6" cy="336.5" r="3.90"/><circle cx="920.6" cy="329.8" r="3.90"/><circle cx="920.6" cy="470.0" r="3.90"/><circle cx="920.6" cy="463.3" r="3.90"/><circle cx="920.6" cy="456.6" r="3.90"/><circle cx="920.6" cy="450.0" r="3.90"/><circle cx="920.6" cy="443.3" r="3.90"/><circle cx="920.6" cy="436.6" r="3.90"/><circle cx="920.6" cy="429.9" r="3.90"/><circle cx="920.6" cy="423.3" r="3.90"/><circle cx="920.6" cy="416.6" r="3.90"/><circle cx="920.6" cy="409.9" r="3.90"/><circle cx="920.6" cy="403.2" r="3.90"/><circle cx="920.6" cy="396.6" r="3.90"/><circle cx="920.6" cy="383.2" r="3.90"/><circle cx="920.6" cy="349.8" r="3.90"/><circle cx="920.6" cy="309.8" r="3.90"/><circle cx="920.6" cy="243.0" r="3.90"/><circle cx="920.9" cy="470.0" r="3.90"/><circle cx="920.9" cy="463.3" r="3.90"/><circle cx="920.9" cy="456.6" r="3.90"/><circle cx="920.9" cy="450.0" r="3.90"/><circle cx="920.9" cy="443.3" r="3.90"/><circle cx="920.9" cy="436.6" r="3.90"/><circle cx="920.9" cy="429.9" r="3.90"/><circle cx="920.9" cy="423.3" r="3.90"/><circle cx="920.9" cy="416.6" r="3.90"/><circle cx="920.9" cy="409.9" r="3.90"/><circle cx="920.9" cy="403.2" r="3.90"/><circle cx="920.9" cy="396.6" r="3.90"/><circle cx="920.9" cy="383.2" r="3.90"/><circle cx="920.9" cy="349.8" r="3.90"/><circle cx="920.9" cy="309.8" r="3.90"/><circle cx="920.9" cy="243.0" r="3.90"/><circle cx="921.2" cy="470.0" r="3.90"/><circle cx="921.2" cy="463.3" r="3.90"/><circle cx="921.2" cy="456.6" r="3.90"/><circle cx="921.2" cy="450.0" r="3.90"/><circle cx="921.2" cy="443.3" r="3.90"/><circle cx="921.2" cy="436.6" r="3.90"/><circle cx="921.2" cy="429.9" r="3.90"/><circle cx="921.2" cy="423.3" r="3.90"/><circle cx="921.2" cy="416.6" r="3.90"/><circle cx="921.2" cy="349.8" r="3.90"/><circle cx="921.2" cy="309.8" r="3.90"/><circle cx="921.2" cy="243.0" r="3.90"/><circle cx="921.2" cy="403.2" r="3.90"/><circle cx="921.2" cy="383.2" r="3.90"/><circle cx="921.2" cy="429.9" r="3.90"/><circle cx="921.5" cy="470.0" r="3.90"/><circle cx="921.5" cy="463.3" r="3.90"/><circle cx="921.5" cy="456.6" r="3.90"/><circle cx="921.5" cy="450.0" r="3.90"/><circle cx="921.5" cy="443.3" r="3.90"/><circle cx="921.5" cy="436.6" r="3.90"/><circle cx="921.5" cy="429.9" r="3.90"/><circle cx="921.5" cy="423.3" r="3.90"/><circle cx="921.5" cy="416.6" r="3.90"/><circle cx="921.5" cy="349.8" r="3.90"/><circle cx="921.5" cy="309.8" r="3.90"/><circle cx="921.6" cy="243.0" r="3.90"/><circle cx="921.8" cy="470.0" r="3.90"/><circle cx="921.8" cy="463.3" r="3.90"/><circle cx="921.8" cy="456.6" r="3.90"/><circle cx="921.8" cy="450.0" r="3.90"/><circle cx="921.8" cy="443.3" r="3.90"/><circle cx="921.8" cy="436.6" r="3.90"/><circle cx="921.8" cy="429.9" r="3.90"/><circle cx="921.8" cy="423.3" r="3.90"/><circle cx="921.8" cy="309.8" r="3.90"/><circle cx="921.9" cy="416.6" r="3.90"/><circle cx="921.9" cy="349.8" r="3.90"/><circle cx="922.1" cy="470.0" r="3.90"/><circle cx="922.1" cy="463.3" r="3.90"/><circle cx="922.1" cy="456.6" r="3.90"/><circle cx="922.1" cy="450.0" r="3.90"/><circle cx="922.1" cy="443.3" r="3.90"/><circle cx="922.1" cy="436.6" r="3.90"/><circle cx="922.1" cy="429.9" r="3.90"/><circle cx="922.1" cy="423.3" r="3.90"/><circle cx="922.1" cy="309.8" r="3.90"/><circle cx="922.4" cy="470.0" r="3.90"/><circle cx="922.4" cy="463.3" r="3.90"/><circle cx="922.4" cy="456.6" r="3.90"/><circle cx="922.4" cy="450.0" r="3.90"/><circle cx="922.4" cy="443.3" r="3.90"/><circle cx="922.4" cy="436.6" r="3.90"/><circle cx="922.4" cy="429.9" r="3.90"/><circle cx="922.4" cy="423.3" r="3.90"/><circle cx="922.4" cy="309.8" r="3.90"/><circle cx="922.5" cy="436.6" r="3.90"/><circle cx="922.5" cy="409.9" r="3.90"/><circle cx="922.5" cy="289.7" r="3.90"/><circle cx="922.7" cy="470.0" r="3.90"/><circle cx="922.7" cy="463.3" r="3.90"/><circle cx="922.7" cy="456.6" r="3.90"/><circle cx="922.7" cy="450.0" r="3.90"/><circle cx="922.7" cy="443.3" r="3.90"/><circle cx="922.9" cy="309.8" r="3.90"/><circle cx="923.0" cy="470.0" r="3.90"/><circle cx="923.0" cy="463.3" r="3.90"/><circle cx="923.0" cy="456.6" r="3.90"/><circle cx="923.0" cy="450.0" r="3.90"/><circle cx="923.1" cy="423.3" r="3.90"/><circle cx="923.2" cy="443.3" r="3.90"/><circle cx="923.2" cy="389.9" r="3.90"/><circle cx="923.3" cy="470.0" r="3.90"/><circle cx="923.3" cy="463.3" r="3.90"/><circle cx="923.3" cy="456.6" r="3.90"/><circle cx="923.3" cy="450.0" r="3.90"/><circle cx="923.6" cy="470.0" r="3.90"/><circle cx="923.6" cy="463.3" r="3.90"/><circle cx="923.6" cy="456.6" r="3.90"/><circle cx="923.6" cy="450.0" r="3.90"/><circle cx="923.7" cy="396.6" r="3.90"/><circle cx="923.9" cy="356.5" r="3.90"/><circle cx="923.9" cy="296.4" r="3.90"/><circle cx="923.9" cy="470.0" r="3.90"/><circle cx="923.9" cy="463.3" r="3.90"/><circle cx="923.9" cy="456.6" r="3.90"/><circle cx="923.9" cy="450.0" r="3.90"/><circle cx="924.2" cy="470.0" r="3.90"/><circle cx="924.2" cy="456.6" r="3.90"/><circle cx="924.2" cy="450.0" r="3.90"/><circle cx="924.4" cy="463.3" r="3.90"/><circle cx="924.5" cy="450.0" r="3.90"/><circle cx="924.5" cy="456.6" r="3.90"/><circle cx="924.5" cy="423.3" r="3.90"/><circle cx="924.5" cy="470.0" r="3.90"/><circle cx="924.5" cy="443.3" r="3.90"/><circle cx="924.8" cy="450.0" r="3.90"/><circle cx="925.1" cy="450.0" r="3.90"/><circle cx="925.4" cy="450.0" r="3.90"/><circle cx="925.6" cy="409.9" r="3.90"/><circle cx="925.7" cy="450.0" r="3.90"/><circle cx="926.1" cy="363.2" r="3.90"/><circle cx="926.5" cy="389.9" r="3.90"/><circle cx="927.8" cy="436.6" r="3.90"/><circle cx="927.8" cy="416.6" r="3.90"/><circle cx="928.2" cy="376.5" r="3.90"/><circle cx="929.2" cy="423.3" r="3.90"/><circle cx="929.5" cy="429.9" r="3.90"/><circle cx="929.5" cy="343.1" r="3.90"/><circle cx="929.7" cy="416.6" r="3.90"/><circle cx="929.8" cy="443.3" r="3.90"/><circle cx="929.8" cy="389.9" r="3.90"/><circle cx="929.8" cy="383.2" r="3.90"/><circle cx="930.2" cy="456.6" r="3.90"/><circle cx="931.1" cy="463.3" r="3.90"/><circle cx="931.1" cy="416.6" r="3.90"/><circle cx="931.1" cy="470.0" r="3.90"/><circle cx="933.0" cy="443.3" r="3.90"/><circle cx="933.0" cy="416.6" r="3.90"/><circle cx="933.7" cy="389.9" r="3.90"/><circle cx="934.4" cy="416.6" r="3.90"/><circle cx="935.1" cy="443.3" r="3.90"/><circle cx="935.1" cy="436.6" r="3.90"/><circle cx="936.4" cy="470.0" r="3.90"/><circle cx="936.9" cy="443.3" r="3.90"/><circle cx="937.6" cy="436.6" r="3.90"/><circle cx="937.7" cy="429.9" r="3.90"/><circle cx="938.4" cy="443.3" r="3.90"/><circle cx="939.0" cy="436.6" r="3.90"/><circle cx="939.0" cy="389.9" r="3.90"/></g>
<g class="pt" stroke-width="0.86"><circle cx="940.0" cy="409.9" r="3.90"/><circle cx="940.0" cy="396.6" r="3.90"/><circle cx="940.2" cy="429.9" r="3.90"/><circle cx="940.3" cy="450.0" r="3.90"/><circle cx="940.3" cy="416.6" r="3.90"/><circle cx="940.4" cy="389.9" r="3.90"/><circle cx="943.0" cy="423.3" r="3.90"/><circle cx="943.6" cy="436.6" r="3.90"/><circle cx="943.7" cy="470.0" r="3.90"/><circle cx="944.3" cy="463.3" r="3.90"/><circle cx="944.3" cy="443.3" r="3.90"/><circle cx="945.0" cy="456.6" r="3.90"/><circle cx="947.1" cy="463.3" r="3.90"/><circle cx="948.6" cy="389.9" r="3.90"/><circle cx="948.8" cy="443.3" r="3.90"/><circle cx="948.9" cy="470.0" r="3.90"/><circle cx="950.2" cy="336.5" r="3.90"/><circle cx="952.5" cy="409.9" r="3.90"/><circle cx="952.8" cy="456.6" r="3.90"/><circle cx="953.2" cy="436.6" r="3.90"/><circle cx="954.9" cy="470.0" r="3.90"/><circle cx="958.8" cy="443.3" r="3.90"/><circle cx="962.1" cy="463.3" r="3.90"/><circle cx="962.1" cy="470.0" r="3.90"/><circle cx="963.4" cy="450.0" r="3.90"/><circle cx="964.1" cy="389.9" r="3.90"/><circle cx="964.2" cy="343.1" r="3.90"/><circle cx="964.6" cy="463.3" r="3.90"/><circle cx="965.1" cy="403.2" r="3.90"/><circle cx="966.1" cy="456.6" r="3.90"/><circle cx="966.1" cy="443.3" r="3.90"/><circle cx="968.6" cy="463.3" r="3.90"/><circle cx="970.6" cy="470.0" r="3.90"/><circle cx="971.7" cy="443.3" r="3.90"/><circle cx="980.6" cy="456.6" r="3.90"/><circle cx="981.9" cy="450.0" r="3.90"/><circle cx="981.9" cy="436.6" r="3.90"/><circle cx="981.9" cy="389.9" r="3.90"/><circle cx="983.9" cy="369.8" r="3.90"/><circle cx="991.1" cy="416.6" r="3.90"/><circle cx="991.4" cy="409.9" r="3.90"/><circle cx="995.8" cy="423.3" r="3.90"/><circle cx="1000.7" cy="436.6" r="3.90"/><circle cx="1004.3" cy="416.6" r="3.90"/><circle cx="1007.6" cy="436.6" r="3.90"/><circle cx="1009.0" cy="450.0" r="3.90"/><circle cx="1027.2" cy="423.3" r="3.90"/><circle cx="1030.7" cy="416.6" r="3.90"/><circle cx="1032.3" cy="450.0" r="3.90"/><circle cx="1041.7" cy="463.3" r="3.90"/><circle cx="1051.8" cy="429.9" r="3.90"/><circle cx="1060.4" cy="423.3" r="3.90"/><circle cx="1068.3" cy="470.0" r="3.90"/><circle cx="1068.3" cy="443.3" r="3.90"/><circle cx="1072.9" cy="429.9" r="3.90"/><circle cx="1090.7" cy="450.0" r="3.90"/><circle cx="1092.3" cy="429.9" r="3.90"/><circle cx="1092.3" cy="383.2" r="3.90"/><circle cx="1105.2" cy="436.6" r="3.90"/><circle cx="1122.3" cy="443.3" r="3.90"/><circle cx="1123.9" cy="436.6" r="3.90"/><circle cx="1154.2" cy="396.6" r="3.90"/><circle cx="1165.9" cy="450.0" r="3.90"/><circle cx="1166.3" cy="456.6" r="3.90"/><circle cx="1167.8" cy="450.0" r="3.90"/><circle cx="1168.1" cy="463.3" r="3.90"/><circle cx="1185.6" cy="436.6" r="3.90"/><circle cx="1192.6" cy="349.8" r="3.90"/><circle cx="1192.9" cy="436.6" r="3.90"/><circle cx="1212.7" cy="389.9" r="3.90"/><circle cx="1219.9" cy="470.0" r="3.90"/><circle cx="1219.9" cy="416.6" r="3.90"/><circle cx="1225.9" cy="450.0" r="3.90"/><circle cx="1226.1" cy="456.6" r="3.90"/><circle cx="1226.1" cy="403.2" r="3.90"/><circle cx="1226.1" cy="389.9" r="3.90"/><circle cx="1246.3" cy="443.3" r="3.90"/><circle cx="1246.3" cy="416.6" r="3.90"/><circle cx="1275.1" cy="450.0" r="3.90"/><circle cx="1280.2" cy="443.3" r="3.90"/><circle cx="1326.8" cy="456.6" r="3.90"/><circle cx="1386.6" cy="363.2" r="3.90"/><circle cx="1386.6" cy="336.5" r="3.90"/></g>
</g>
<path class="ax" stroke-width="1.90" stroke-linejoin="miter" d="M915.2,35.05 V470.0 H1455.06"/>
<path class="ax" stroke-width="1.66" d="M1454.2,35.24 V470.95"/>
<path class="ax" stroke-width="1.52" d="M956.66,470.0 v-4.37 M998.12,470.0 v-8.56 M1039.58,470.0 v-4.37 M1081.05,470.0 v-8.56 M1122.51,470.0 v-4.37 M1163.97,470.0 v-8.56 M1205.43,470.0 v-4.37 M1246.89,470.0 v-8.56 M1288.35,470.0 v-4.37 M1329.82,470.0 v-8.56 M1371.28,470.0 v-4.37 M1412.74,470.0 v-8.56 M915.2,426.60 h4.37 M915.2,383.20 h8.56 M915.2,339.80 h4.37 M915.2,296.40 h8.56 M915.2,253.00 h4.37 M915.2,209.60 h8.56 M915.2,166.20 h4.37 M915.2,122.80 h8.56 M915.2,79.40 h4.37 M915.2,36.00 h8.56 M1454.2,436.62 h-8.56 M1454.2,369.85 h-8.56 M1454.2,403.23 h-4.37 M1454.2,303.08 h-8.56 M1454.2,336.46 h-4.37 M1454.2,236.31 h-8.56 M1454.2,269.69 h-4.37 M1454.2,169.54 h-8.56 M1454.2,202.92 h-4.37 M1454.2,102.77 h-8.56 M1454.2,136.15 h-4.37 M1454.2,36.00 h-8.56 M1454.2,69.38 h-4.37"/>
<text transform="translate(915.77,497.20) scale(0.9360,1)" font-size="24.06" text-anchor="middle">0</text>
<text transform="translate(998.69,497.20) scale(0.9360,1)" font-size="24.06" text-anchor="middle">2</text>
<text transform="translate(1081.62,497.20) scale(0.9360,1)" font-size="24.06" text-anchor="middle">4</text>
<text transform="translate(1164.54,497.20) scale(0.9360,1)" font-size="24.06" text-anchor="middle">6</text>
<text transform="translate(1247.46,497.20) scale(0.9360,1)" font-size="24.06" text-anchor="middle">8</text>
<text transform="translate(1330.39,497.20) scale(0.9360,1)" font-size="24.06" text-anchor="middle">10</text>
<text transform="translate(1413.31,497.20) scale(0.9360,1)" font-size="24.06" text-anchor="middle">12</text>
<text transform="translate(905.50,477.13) scale(0.9360,1)" font-size="24.06" text-anchor="end">0.0</text>
<text transform="translate(905.50,390.33) scale(0.9360,1)" font-size="24.06" text-anchor="end">0.1</text>
<text transform="translate(905.50,303.53) scale(0.9360,1)" font-size="24.06" text-anchor="end">0.2</text>
<text transform="translate(905.50,216.73) scale(0.9360,1)" font-size="24.06" text-anchor="end">0.3</text>
<text transform="translate(905.50,129.93) scale(0.9360,1)" font-size="24.06" text-anchor="end">0.4</text>
<text transform="translate(905.50,43.13) scale(0.9360,1)" font-size="24.06" text-anchor="end">0.5</text>
<text transform="translate(1463.33,443.75) scale(0.9360,1)" font-size="24.06">40</text>
<text transform="translate(1463.33,376.98) scale(0.9360,1)" font-size="24.06">50</text>
<text transform="translate(1463.33,310.21) scale(0.9360,1)" font-size="24.06">60</text>
<text transform="translate(1463.33,243.44) scale(0.9360,1)" font-size="24.06">70</text>
<text transform="translate(1463.33,176.67) scale(0.9360,1)" font-size="24.06">80</text>
<text transform="translate(1463.33,109.90) scale(0.9360,1)" font-size="24.06">90</text>
<text transform="translate(1463.33,43.13) scale(0.9360,1)" font-size="24.06">100</text>
<text transform="translate(1176.00,518.60)" font-size="26.63" text-anchor="middle">time/h</text>
<text transform="translate(874.90,273.80) rotate(-90) scale(0.9470,1)" font-size="28.05" text-anchor="middle">axial strain/10<tspan font-size="14.26" dy="-9.99">-2</tspan></text>
<text transform="translate(1509.30,273.30) rotate(-90) scale(0.9470,1)" font-size="28.05" text-anchor="middle">amplitude/dB</text>
<path class="cv" stroke-width="2.19" d="M937,52.4 H989.1"/>
<circle class="pt" stroke-width="0.86" cx="962.7" cy="80.5" r="3.90"/>
<text transform="translate(997.70,58.60)" font-size="26.63">axial strain</text>
<text transform="translate(997.70,85.80)" font-size="26.63">amplitude</text>
<text transform="translate(1177.00,565.00)" font-size="42.50" text-anchor="middle" class="lb">(b)</text>
</g>
<g id="chart-c">
<clipPath id="clip-c"><rect x="472.8" y="638.55" width="575.4000000000001" height="465.25"/></clipPath>
<g clip-path="url(#clip-c)">
<path class="cv" stroke-width="2.34" d="M474.3,964.2 L475.3,894.2 L477.5,789.2 L478.8,729.2 L479.8,713.2 L481.5,707.2 L485,704.2 L492,702.7 L520,701.2 L600,698.7 L700,696.5 L800,695.0 L900,694.0 L1005.7,693.2"/>
<g class="pt pn" stroke-width="1.02"><circle cx="472.8" cy="1103.8" r="4.17"/><circle cx="472.8" cy="1096.7" r="4.17"/><circle cx="472.8" cy="1089.5" r="4.17"/><circle cx="472.8" cy="1082.4" r="4.17"/><circle cx="472.8" cy="1075.3" r="4.17"/><circle cx="472.8" cy="1068.2" r="4.17"/><circle cx="472.8" cy="1061.0" r="4.17"/><circle cx="472.8" cy="1053.9" r="4.17"/><circle cx="472.8" cy="1046.8" r="4.17"/><circle cx="472.8" cy="1039.7" r="4.17"/><circle cx="472.8" cy="1032.5" r="4.17"/><circle cx="472.8" cy="1025.4" r="4.17"/><circle cx="472.8" cy="1018.3" r="4.17"/><circle cx="472.8" cy="1011.1" r="4.17"/><circle cx="472.8" cy="1004.0" r="4.17"/><circle cx="472.8" cy="996.9" r="4.17"/><circle cx="472.8" cy="989.8" r="4.17"/><circle cx="472.8" cy="982.6" r="4.17"/><circle cx="472.8" cy="975.5" r="4.17"/><circle cx="472.8" cy="968.4" r="4.17"/><circle cx="472.8" cy="947.0" r="4.17"/><circle cx="472.8" cy="939.9" r="4.17"/><circle cx="472.8" cy="932.8" r="4.17"/><circle cx="472.8" cy="925.6" r="4.17"/><circle cx="472.8" cy="918.5" r="4.17"/><circle cx="472.8" cy="911.4" r="4.17"/><circle cx="472.8" cy="904.2" r="4.17"/><circle cx="473.1" cy="1103.8" r="4.17"/><circle cx="473.1" cy="1096.7" r="4.17"/><circle cx="473.1" cy="1089.5" r="4.17"/><circle cx="473.1" cy="1082.4" r="4.17"/><circle cx="473.1" cy="1075.3" r="4.17"/><circle cx="473.1" cy="1068.2" r="4.17"/><circle cx="473.1" cy="1061.0" r="4.17"/><circle cx="473.1" cy="1053.9" r="4.17"/><circle cx="473.1" cy="1046.8" r="4.17"/><circle cx="473.1" cy="1039.7" r="4.17"/><circle cx="473.1" cy="1032.5" r="4.17"/><circle cx="473.1" cy="1025.4" r="4.17"/><circle cx="473.1" cy="1018.3" r="4.17"/><circle cx="473.1" cy="1011.1" r="4.17"/><circle cx="473.1" cy="1004.0" r="4.17"/><circle cx="473.1" cy="996.9" r="4.17"/><circle cx="473.1" cy="989.8" r="4.17"/><circle cx="473.1" cy="982.6" r="4.17"/><circle cx="473.1" cy="975.5" r="4.17"/><circle cx="473.1" cy="968.4" r="4.17"/><circle cx="473.1" cy="947.0" r="4.17"/><circle cx="473.1" cy="939.9" r="4.17"/><circle cx="473.1" cy="932.8" r="4.17"/><circle cx="473.1" cy="925.6" r="4.17"/><circle cx="473.1" cy="918.5" r="4.17"/><circle cx="473.1" cy="911.4" r="4.17"/><circle cx="473.1" cy="904.2" r="4.17"/><circle cx="473.4" cy="1103.8" r="4.17"/><circle cx="473.4" cy="1096.7" r="4.17"/><circle cx="473.4" cy="1089.5" r="4.17"/><circle cx="473.4" cy="1082.4" r="4.17"/><circle cx="473.4" cy="1075.3" r="4.17"/><circle cx="473.4" cy="1068.2" r="4.17"/><circle cx="473.4" cy="1061.0" r="4.17"/><circle cx="473.4" cy="1053.9" r="4.17"/><circle cx="473.4" cy="1046.8" r="4.17"/><circle cx="473.4" cy="1039.7" r="4.17"/><circle cx="473.4" cy="1032.5" r="4.17"/><circle cx="473.4" cy="1025.4" r="4.17"/><circle cx="473.4" cy="1018.3" r="4.17"/><circle cx="473.4" cy="1011.1" r="4.17"/><circle cx="473.4" cy="1004.0" r="4.17"/><circle cx="473.4" cy="996.9" r="4.17"/><circle cx="473.4" cy="989.8" r="4.17"/><circle cx="473.4" cy="982.6" r="4.17"/><circle cx="473.4" cy="975.5" r="4.17"/><circle cx="473.4" cy="968.4" r="4.17"/><circle cx="473.4" cy="947.0" r="4.17"/><circle cx="473.4" cy="939.9" r="4.17"/><circle cx="473.4" cy="932.8" r="4.17"/><circle cx="473.4" cy="925.6" r="4.17"/><circle cx="473.4" cy="918.5" r="4.17"/><circle cx="473.4" cy="911.4" r="4.17"/><circle cx="473.4" cy="904.2" r="4.17"/><circle cx="473.7" cy="1103.8" r="4.17"/><circle cx="473.7" cy="1096.7" r="4.17"/><circle cx="473.7" cy="1089.5" r="4.17"/><circle cx="473.7" cy="1082.4" r="4.17"/><circle cx="473.7" cy="1075.3" r="4.17"/><circle cx="473.7" cy="1068.2" r="4.17"/><circle cx="473.7" cy="1061.0" r="4.17"/><circle cx="473.7" cy="1053.9" r="4.17"/><circle cx="473.7" cy="1046.8" r="4.17"/><circle cx="473.7" cy="1039.7" r="4.17"/><circle cx="473.7" cy="1032.5" r="4.17"/><circle cx="473.7" cy="1025.4" r="4.17"/><circle cx="473.7" cy="1018.3" r="4.17"/><circle cx="473.7" cy="1011.1" r="4.17"/><circle cx="473.7" cy="1004.0" r="4.17"/><circle cx="473.7" cy="996.9" r="4.17"/><circle cx="473.7" cy="989.8" r="4.17"/><circle cx="473.7" cy="982.6" r="4.17"/><circle cx="473.7" cy="975.5" r="4.17"/><circle cx="473.7" cy="968.4" r="4.17"/><circle cx="473.7" cy="947.0" r="4.17"/><circle cx="473.7" cy="939.9" r="4.17"/><circle cx="473.7" cy="932.8" r="4.17"/><circle cx="473.7" cy="925.6" r="4.17"/><circle cx="473.7" cy="918.5" r="4.17"/><circle cx="473.7" cy="911.4" r="4.17"/><circle cx="473.7" cy="904.2" r="4.17"/><circle cx="474.0" cy="1103.8" r="4.17"/><circle cx="474.0" cy="1096.7" r="4.17"/><circle cx="474.0" cy="1089.5" r="4.17"/><circle cx="474.0" cy="1082.4" r="4.17"/><circle cx="474.0" cy="1075.3" r="4.17"/><circle cx="474.0" cy="1068.2" r="4.17"/><circle cx="474.0" cy="1061.0" r="4.17"/><circle cx="474.0" cy="1053.9" r="4.17"/><circle cx="474.0" cy="1046.8" r="4.17"/><circle cx="474.0" cy="1039.7" r="4.17"/><circle cx="474.0" cy="1032.5" r="4.17"/><circle cx="474.0" cy="1025.4" r="4.17"/><circle cx="474.0" cy="1018.3" r="4.17"/><circle cx="474.0" cy="1011.1" r="4.17"/><circle cx="474.0" cy="1004.0" r="4.17"/><circle cx="474.0" cy="996.9" r="4.17"/><circle cx="474.0" cy="989.8" r="4.17"/><circle cx="474.0" cy="982.6" r="4.17"/><circle cx="474.0" cy="975.5" r="4.17"/><circle cx="474.0" cy="968.4" r="4.17"/><circle cx="474.0" cy="947.0" r="4.17"/><circle cx="474.0" cy="939.9" r="4.17"/><circle cx="474.0" cy="932.8" r="4.17"/><circle cx="474.0" cy="925.6" r="4.17"/><circle cx="474.0" cy="918.5" r="4.17"/><circle cx="474.0" cy="911.4" r="4.17"/><circle cx="474.0" cy="904.2" r="4.17"/><circle cx="474.3" cy="1103.8" r="4.17"/><circle cx="474.3" cy="1096.7" r="4.17"/><circle cx="474.3" cy="1089.5" r="4.17"/><circle cx="474.3" cy="1082.4" r="4.17"/><circle cx="474.3" cy="1075.3" r="4.17"/><circle cx="474.3" cy="1068.2" r="4.17"/><circle cx="474.3" cy="1061.0" r="4.17"/><circle cx="474.3" cy="1053.9" r="4.17"/><circle cx="474.3" cy="1046.8" r="4.17"/><circle cx="474.3" cy="1039.7" r="4.17"/><circle cx="474.3" cy="1032.5" r="4.17"/><circle cx="474.3" cy="1025.4" r="4.17"/><circle cx="474.3" cy="1018.3" r="4.17"/><circle cx="474.3" cy="1011.1" r="4.17"/><circle cx="474.3" cy="1004.0" r="4.17"/><circle cx="474.3" cy="996.9" r="4.17"/><circle cx="474.3" cy="989.8" r="4.17"/><circle cx="474.3" cy="982.6" r="4.17"/><circle cx="474.3" cy="975.5" r="4.17"/><circle cx="474.3" cy="968.4" r="4.17"/><circle cx="474.3" cy="947.0" r="4.17"/><circle cx="474.3" cy="939.9" r="4.17"/><circle cx="474.3" cy="932.8" r="4.17"/><circle cx="474.3" cy="925.6" r="4.17"/><circle cx="474.3" cy="918.5" r="4.17"/><circle cx="474.3" cy="911.4" r="4.17"/><circle cx="474.3" cy="904.2" r="4.17"/><circle cx="474.6" cy="1103.8" r="4.17"/><circle cx="474.6" cy="1096.7" r="4.17"/><circle cx="474.6" cy="1089.5" r="4.17"/><circle cx="474.6" cy="1082.4" r="4.17"/><circle cx="474.6" cy="1075.3" r="4.17"/><circle cx="474.6" cy="1068.2" r="4.17"/><circle cx="474.6" cy="1061.0" r="4.17"/><circle cx="474.6" cy="1053.9" r="4.17"/><circle cx="474.6" cy="1046.8" r="4.17"/><circle cx="474.6" cy="1039.7" r="4.17"/><circle cx="474.6" cy="1032.5" r="4.17"/><circle cx="474.6" cy="1025.4" r="4.17"/><circle cx="474.6" cy="1018.3" r="4.17"/><circle cx="474.6" cy="1011.1" r="4.17"/><circle cx="474.6" cy="1004.0" r="4.17"/><circle cx="474.6" cy="996.9" r="4.17"/><circle cx="474.6" cy="989.8" r="4.17"/><circle cx="474.6" cy="982.6" r="4.17"/><circle cx="474.6" cy="975.5" r="4.17"/><circle cx="474.6" cy="968.4" r="4.17"/><circle cx="474.6" cy="947.0" r="4.17"/><circle cx="474.6" cy="939.9" r="4.17"/><circle cx="474.6" cy="932.8" r="4.17"/><circle cx="474.6" cy="925.6" r="4.17"/><circle cx="474.6" cy="918.5" r="4.17"/><circle cx="474.6" cy="911.4" r="4.17"/><circle cx="474.6" cy="904.2" r="4.17"/><circle cx="474.9" cy="1103.8" r="4.17"/><circle cx="474.9" cy="1096.7" r="4.17"/><circle cx="474.9" cy="1089.5" r="4.17"/><circle cx="474.9" cy="1082.4" r="4.17"/><circle cx="474.9" cy="1075.3" r="4.17"/><circle cx="474.9" cy="1068.2" r="4.17"/><circle cx="474.9" cy="1061.0" r="4.17"/><circle cx="474.9" cy="1053.9" r="4.17"/><circle cx="474.9" cy="1046.8" r="4.17"/><circle cx="474.9" cy="1039.7" r="4.17"/><circle cx="474.9" cy="1032.5" r="4.17"/><circle cx="474.9" cy="1025.4" r="4.17"/><circle cx="474.9" cy="1018.3" r="4.17"/><circle cx="474.9" cy="1011.1" r="4.17"/><circle cx="474.9" cy="1004.0" r="4.17"/><circle cx="474.9" cy="996.9" r="4.17"/><circle cx="474.9" cy="989.8" r="4.17"/><circle cx="474.9" cy="982.6" r="4.17"/><circle cx="474.9" cy="975.5" r="4.17"/><circle cx="474.9" cy="968.4" r="4.17"/><circle cx="474.9" cy="947.0" r="4.17"/><circle cx="474.9" cy="939.9" r="4.17"/><circle cx="474.9" cy="932.8" r="4.17"/><circle cx="474.9" cy="925.6" r="4.17"/><circle cx="474.9" cy="918.5" r="4.17"/><circle cx="474.9" cy="911.4" r="4.17"/><circle cx="474.9" cy="904.2" r="4.17"/><circle cx="475.2" cy="1103.8" r="4.17"/><circle cx="475.2" cy="1096.7" r="4.17"/><circle cx="475.2" cy="1089.5" r="4.17"/><circle cx="475.2" cy="1082.4" r="4.17"/><circle cx="475.2" cy="1075.3" r="4.17"/><circle cx="475.2" cy="1068.2" r="4.17"/><circle cx="475.2" cy="1061.0" r="4.17"/><circle cx="475.2" cy="1053.9" r="4.17"/><circle cx="475.2" cy="1046.8" r="4.17"/><circle cx="475.2" cy="1039.7" r="4.17"/><circle cx="475.2" cy="1032.5" r="4.17"/><circle cx="475.2" cy="1025.4" r="4.17"/><circle cx="475.2" cy="1011.1" r="4.17"/><circle cx="475.2" cy="1004.0" r="4.17"/><circle cx="475.2" cy="996.9" r="4.17"/><circle cx="475.2" cy="989.8" r="4.17"/><circle cx="475.2" cy="982.6" r="4.17"/><circle cx="475.2" cy="975.5" r="4.17"/><circle cx="475.2" cy="968.4" r="4.17"/><circle cx="475.2" cy="947.0" r="4.17"/><circle cx="475.2" cy="939.9" r="4.17"/><circle cx="475.2" cy="932.8" r="4.17"/><circle cx="475.2" cy="925.6" r="4.17"/><circle cx="475.2" cy="918.5" r="4.17"/><circle cx="475.2" cy="911.4" r="4.17"/><circle cx="475.2" cy="904.2" r="4.17"/><circle cx="475.5" cy="1103.8" r="4.17"/><circle cx="475.5" cy="1096.7" r="4.17"/><circle cx="475.5" cy="1089.5" r="4.17"/><circle cx="475.5" cy="1082.4" r="4.17"/><circle cx="475.5" cy="1075.3" r="4.17"/><circle cx="475.5" cy="1068.2" r="4.17"/><circle cx="475.5" cy="1061.0" r="4.17"/><circle cx="475.5" cy="1053.9" r="4.17"/><circle cx="475.5" cy="1046.8" r="4.17"/><circle cx="475.5" cy="1039.7" r="4.17"/><circle cx="475.5" cy="1032.5" r="4.17"/><circle cx="475.5" cy="1025.4" r="4.17"/><circle cx="475.5" cy="1011.1" r="4.17"/><circle cx="475.5" cy="1004.0" r="4.17"/><circle cx="475.5" cy="996.9" r="4.17"/><circle cx="475.5" cy="989.8" r="4.17"/><circle cx="475.5" cy="982.6" r="4.17"/><circle cx="475.5" cy="975.5" r="4.17"/><circle cx="475.5" cy="968.4" r="4.17"/><circle cx="475.5" cy="947.0" r="4.17"/><circle cx="475.5" cy="939.9" r="4.17"/><circle cx="475.5" cy="932.8" r="4.17"/><circle cx="475.5" cy="925.6" r="4.17"/><circle cx="475.5" cy="918.5" r="4.17"/><circle cx="475.5" cy="911.4" r="4.17"/><circle cx="475.5" cy="904.2" r="4.17"/><circle cx="475.8" cy="1103.8" r="4.17"/><circle cx="475.8" cy="1096.7" r="4.17"/><circle cx="475.8" cy="1089.5" r="4.17"/><circle cx="475.8" cy="1082.4" r="4.17"/><circle cx="475.8" cy="1075.3" r="4.17"/><circle cx="475.8" cy="1061.0" r="4.17"/><circle cx="475.8" cy="1053.9" r="4.17"/><circle cx="475.8" cy="1046.8" r="4.17"/><circle cx="475.8" cy="1039.7" r="4.17"/><circle cx="475.8" cy="1032.5" r="4.17"/><circle cx="475.8" cy="1025.4" r="4.17"/><circle cx="475.8" cy="1011.1" r="4.17"/><circle cx="475.8" cy="1004.0" r="4.17"/><circle cx="475.8" cy="996.9" r="4.17"/><circle cx="475.8" cy="989.8" r="4.17"/><circle cx="475.8" cy="982.6" r="4.17"/><circle cx="475.8" cy="975.5" r="4.17"/><circle cx="475.8" cy="968.4" r="4.17"/><circle cx="475.8" cy="947.0" r="4.17"/><circle cx="475.8" cy="939.9" r="4.17"/><circle cx="475.8" cy="932.8" r="4.17"/><circle cx="475.8" cy="925.6" r="4.17"/><circle cx="475.8" cy="918.5" r="4.17"/><circle cx="475.8" cy="911.4" r="4.17"/><circle cx="475.8" cy="904.2" r="4.17"/><circle cx="475.9" cy="1068.2" r="4.17"/><circle cx="476.1" cy="1103.8" r="4.17"/><circle cx="476.1" cy="1096.7" r="4.17"/><circle cx="476.1" cy="1089.5" r="4.17"/><circle cx="476.1" cy="1082.4" r="4.17"/><circle cx="476.1" cy="1075.3" r="4.17"/><circle cx="476.1" cy="1061.0" r="4.17"/><circle cx="476.1" cy="1053.9" r="4.17"/><circle cx="476.1" cy="1046.8" r="4.17"/><circle cx="476.1" cy="1039.7" r="4.17"/><circle cx="476.1" cy="1032.5" r="4.17"/><circle cx="476.1" cy="1025.4" r="4.17"/><circle cx="476.1" cy="1004.0" r="4.17"/><circle cx="476.1" cy="996.9" r="4.17"/><circle cx="476.1" cy="989.8" r="4.17"/><circle cx="476.1" cy="982.6" r="4.17"/><circle cx="476.1" cy="975.5" r="4.17"/><circle cx="476.1" cy="968.4" r="4.17"/><circle cx="476.1" cy="939.9" r="4.17"/><circle cx="476.1" cy="932.8" r="4.17"/><circle cx="476.1" cy="918.5" r="4.17"/><circle cx="476.1" cy="911.4" r="4.17"/><circle cx="476.2" cy="1011.1" r="4.17"/><circle cx="476.2" cy="947.0" r="4.17"/><circle cx="476.2" cy="925.6" r="4.17"/><circle cx="476.2" cy="904.2" r="4.17"/><circle cx="476.2" cy="804.5" r="4.17"/><circle cx="476.4" cy="1103.8" r="4.17"/><circle cx="476.4" cy="1096.7" r="4.17"/><circle cx="476.4" cy="1089.5" r="4.17"/><circle cx="476.4" cy="1075.3" r="4.17"/><circle cx="476.4" cy="1061.0" r="4.17"/><circle cx="476.4" cy="1053.9" r="4.17"/><circle cx="476.4" cy="1046.8" r="4.17"/><circle cx="476.4" cy="1032.5" r="4.17"/><circle cx="476.4" cy="1025.4" r="4.17"/><circle cx="476.4" cy="1004.0" r="4.17"/><circle cx="476.4" cy="989.8" r="4.17"/><circle cx="476.4" cy="982.6" r="4.17"/><circle cx="476.4" cy="975.5" r="4.17"/><circle cx="476.4" cy="939.9" r="4.17"/><circle cx="476.4" cy="932.8" r="4.17"/><circle cx="476.4" cy="918.5" r="4.17"/><circle cx="476.4" cy="911.4" r="4.17"/><circle cx="476.6" cy="1082.4" r="4.17"/><circle cx="476.6" cy="1039.7" r="4.17"/><circle cx="476.6" cy="996.9" r="4.17"/><circle cx="476.6" cy="968.4" r="4.17"/><circle cx="476.7" cy="1103.8" r="4.17"/><circle cx="476.7" cy="1096.7" r="4.17"/><circle cx="476.7" cy="1089.5" r="4.17"/><circle cx="476.7" cy="1075.3" r="4.17"/><circle cx="476.7" cy="1061.0" r="4.17"/><circle cx="476.7" cy="1053.9" r="4.17"/><circle cx="476.7" cy="1046.8" r="4.17"/><circle cx="476.7" cy="1025.4" r="4.17"/><circle cx="476.7" cy="1004.0" r="4.17"/><circle cx="476.7" cy="989.8" r="4.17"/><circle cx="476.7" cy="975.5" r="4.17"/><circle cx="476.7" cy="939.9" r="4.17"/><circle cx="476.7" cy="932.8" r="4.17"/><circle cx="476.7" cy="918.5" r="4.17"/><circle cx="476.7" cy="911.4" r="4.17"/><circle cx="476.9" cy="1032.5" r="4.17"/><circle cx="476.9" cy="982.6" r="4.17"/><circle cx="477.0" cy="1103.8" r="4.17"/><circle cx="477.0" cy="1096.7" r="4.17"/><circle cx="477.0" cy="1089.5" r="4.17"/><circle cx="477.0" cy="1075.3" r="4.17"/><circle cx="477.0" cy="1061.0" r="4.17"/><circle cx="477.0" cy="1053.9" r="4.17"/><circle cx="477.0" cy="1046.8" r="4.17"/><circle cx="477.0" cy="1025.4" r="4.17"/><circle cx="477.0" cy="1004.0" r="4.17"/><circle cx="477.0" cy="989.8" r="4.17"/><circle cx="477.0" cy="975.5" r="4.17"/><circle cx="477.0" cy="939.9" r="4.17"/><circle cx="477.0" cy="932.8" r="4.17"/><circle cx="477.0" cy="918.5" r="4.17"/><circle cx="477.0" cy="911.4" r="4.17"/><circle cx="477.3" cy="1103.8" r="4.17"/><circle cx="477.3" cy="1096.7" r="4.17"/><circle cx="477.3" cy="1089.5" r="4.17"/><circle cx="477.3" cy="1075.3" r="4.17"/><circle cx="477.3" cy="1061.0" r="4.17"/><circle cx="477.3" cy="1046.8" r="4.17"/><circle cx="477.3" cy="932.8" r="4.17"/><circle cx="477.3" cy="911.4" r="4.17"/><circle cx="477.5" cy="1053.9" r="4.17"/><circle cx="477.5" cy="1025.4" r="4.17"/><circle cx="477.5" cy="1004.0" r="4.17"/><circle cx="477.5" cy="989.8" r="4.17"/><circle cx="477.5" cy="975.5" r="4.17"/><circle cx="477.5" cy="939.9" r="4.17"/><circle cx="477.5" cy="918.5" r="4.17"/><circle cx="477.6" cy="1103.8" r="4.17"/><circle cx="477.6" cy="1096.7" r="4.17"/><circle cx="477.6" cy="1089.5" r="4.17"/><circle cx="477.6" cy="1075.3" r="4.17"/><circle cx="477.6" cy="1061.0" r="4.17"/><circle cx="477.6" cy="1046.8" r="4.17"/><circle cx="477.6" cy="932.8" r="4.17"/><circle cx="477.6" cy="911.4" r="4.17"/><circle cx="477.9" cy="1103.8" r="4.17"/><circle cx="477.9" cy="1096.7" r="4.17"/><circle cx="477.9" cy="1089.5" r="4.17"/><circle cx="477.9" cy="1075.3" r="4.17"/><circle cx="477.9" cy="1061.0" r="4.17"/><circle cx="477.9" cy="1046.8" r="4.17"/><circle cx="477.9" cy="911.4" r="4.17"/><circle cx="477.9" cy="932.8" r="4.17"/><circle cx="478.2" cy="1103.8" r="4.17"/><circle cx="478.2" cy="1096.7" r="4.17"/><circle cx="478.2" cy="1075.3" r="4.17"/><circle cx="478.2" cy="1061.0" r="4.17"/><circle cx="478.2" cy="1046.8" r="4.17"/><circle cx="478.2" cy="911.4" r="4.17"/><circle cx="478.4" cy="1089.5" r="4.17"/><circle cx="478.5" cy="1103.8" r="4.17"/><circle cx="478.5" cy="1096.7" r="4.17"/><circle cx="478.5" cy="1075.3" r="4.17"/><circle cx="478.5" cy="1061.0" r="4.17"/><circle cx="478.5" cy="1046.8" r="4.17"/><circle cx="478.5" cy="911.4" r="4.17"/><circle cx="478.8" cy="1103.8" r="4.17"/><circle cx="478.8" cy="1096.7" r="4.17"/><circle cx="478.8" cy="1061.0" r="4.17"/><circle cx="478.8" cy="1046.8" r="4.17"/><circle cx="478.9" cy="1075.3" r="4.17"/><circle cx="478.9" cy="911.4" r="4.17"/><circle cx="479.1" cy="1103.8" r="4.17"/><circle cx="479.1" cy="1096.7" r="4.17"/><circle cx="479.1" cy="1061.0" r="4.17"/><circle cx="479.1" cy="1046.8" r="4.17"/><circle cx="479.4" cy="1103.8" r="4.17"/><circle cx="479.4" cy="1061.0" r="4.17"/><circle cx="479.4" cy="1096.7" r="4.17"/><circle cx="479.5" cy="1011.1" r="4.17"/><circle cx="479.6" cy="1046.8" r="4.17"/><circle cx="479.7" cy="1061.0" r="4.17"/><circle cx="479.8" cy="1103.8" r="4.17"/><circle cx="480.0" cy="1061.0" r="4.17"/><circle cx="480.3" cy="1061.0" r="4.17"/><circle cx="480.6" cy="1061.0" r="4.17"/><circle cx="480.9" cy="1061.0" r="4.17"/><circle cx="481.5" cy="904.2" r="4.17"/><circle cx="481.5" cy="840.1" r="4.17"/><circle cx="482.2" cy="1039.7" r="4.17"/><circle cx="482.2" cy="1025.4" r="4.17"/><circle cx="486.5" cy="1075.3" r="4.17"/><circle cx="487.7" cy="1046.8" r="4.17"/><circle cx="490.7" cy="1103.8" r="4.17"/><circle cx="495.6" cy="1103.8" r="4.17"/></g>
<g class="pt" stroke-width="0.92"><circle cx="501.0" cy="1004.0" r="4.17"/><circle cx="505.5" cy="1103.8" r="4.17"/><circle cx="510.5" cy="1103.8" r="4.17"/><circle cx="511.4" cy="1061.0" r="4.17"/><circle cx="517.1" cy="1068.2" r="4.17"/><circle cx="520.3" cy="1103.8" r="4.17"/><circle cx="522.7" cy="1103.8" r="4.17"/><circle cx="525.7" cy="1103.8" r="4.17"/><circle cx="528.0" cy="1103.8" r="4.17"/><circle cx="531.0" cy="1103.8" r="4.17"/><circle cx="533.4" cy="1103.8" r="4.17"/><circle cx="536.3" cy="1103.8" r="4.17"/><circle cx="538.7" cy="1103.8" r="4.17"/><circle cx="541.7" cy="1103.8" r="4.17"/><circle cx="543.1" cy="1096.7" r="4.17"/><circle cx="544.1" cy="1103.8" r="4.17"/><circle cx="547.0" cy="1103.8" r="4.17"/><circle cx="549.4" cy="1103.8" r="4.17"/><circle cx="551.8" cy="1018.3" r="4.17"/><circle cx="552.4" cy="1103.8" r="4.17"/><circle cx="554.7" cy="1103.8" r="4.17"/><circle cx="557.7" cy="1103.8" r="4.17"/><circle cx="560.1" cy="1103.8" r="4.17"/><circle cx="563.0" cy="1103.8" r="4.17"/><circle cx="565.0" cy="1075.3" r="4.17"/><circle cx="565.4" cy="1103.8" r="4.17"/><circle cx="568.4" cy="1103.8" r="4.17"/><circle cx="570.7" cy="1103.8" r="4.17"/><circle cx="573.7" cy="1103.8" r="4.17"/><circle cx="576.1" cy="1103.8" r="4.17"/><circle cx="579.0" cy="1103.8" r="4.17"/><circle cx="581.4" cy="1103.8" r="4.17"/><circle cx="584.4" cy="1103.8" r="4.17"/><circle cx="586.7" cy="1103.8" r="4.17"/><circle cx="589.7" cy="1103.8" r="4.17"/><circle cx="592.1" cy="1103.8" r="4.17"/><circle cx="595.0" cy="1103.8" r="4.17"/><circle cx="595.3" cy="989.8" r="4.17"/><circle cx="597.4" cy="1103.8" r="4.17"/><circle cx="598.5" cy="1075.3" r="4.17"/><circle cx="600.4" cy="1103.8" r="4.17"/><circle cx="602.7" cy="1103.8" r="4.17"/><circle cx="611.2" cy="1103.8" r="4.17"/><circle cx="617.2" cy="1103.8" r="4.17"/><circle cx="629.0" cy="1103.8" r="4.17"/><circle cx="635.0" cy="1103.8" r="4.17"/><circle cx="639.9" cy="1103.8" r="4.17"/><circle cx="644.4" cy="947.0" r="4.17"/><circle cx="646.0" cy="954.1" r="4.17"/><circle cx="655.7" cy="1103.8" r="4.17"/><circle cx="667.0" cy="1082.4" r="4.17"/><circle cx="698.2" cy="1103.8" r="4.17"/><circle cx="704.1" cy="1103.8" r="4.17"/><circle cx="710.1" cy="1103.8" r="4.17"/><circle cx="720.9" cy="1075.3" r="4.17"/><circle cx="773.3" cy="1082.4" r="4.17"/><circle cx="777.5" cy="1089.5" r="4.17"/><circle cx="810.1" cy="1103.8" r="4.17"/><circle cx="821.9" cy="1053.9" r="4.17"/><circle cx="832.2" cy="1068.2" r="4.17"/><circle cx="842.7" cy="1082.4" r="4.17"/><circle cx="871.7" cy="1053.9" r="4.17"/><circle cx="985.0" cy="1082.4" r="4.17"/><circle cx="998.2" cy="1096.7" r="4.17"/></g>
</g>
<path class="ax" stroke-width="2.03" stroke-linejoin="miter" d="M472.8,639.53 V1103.8 H1049.12"/>
<path class="ax" stroke-width="1.78" d="M1048.2,639.74 V1104.82"/>
<path class="ax" stroke-width="1.63" d="M517.06,1103.8 v-4.68 M561.32,1103.8 v-9.15 M605.58,1103.8 v-4.68 M649.85,1103.8 v-9.15 M694.11,1103.8 v-4.68 M738.37,1103.8 v-9.15 M782.63,1103.8 v-4.68 M826.89,1103.8 v-9.15 M871.15,1103.8 v-4.68 M915.42,1103.8 v-9.15 M959.68,1103.8 v-4.68 M1003.94,1103.8 v-9.15 M472.8,1070.71 h4.68 M472.8,1037.62 h9.15 M472.8,1004.53 h4.68 M472.8,971.44 h9.15 M472.8,938.35 h4.68 M472.8,905.26 h9.15 M472.8,872.17 h4.68 M472.8,839.09 h9.15 M472.8,806.00 h4.68 M472.8,772.91 h9.15 M472.8,739.82 h4.68 M472.8,706.73 h9.15 M472.8,673.64 h4.68 M472.8,640.55 h9.15 M1048.2,1068.17 h-9.15 M1048.2,996.90 h-9.15 M1048.2,1032.53 h-4.68 M1048.2,925.63 h-9.15 M1048.2,961.26 h-4.68 M1048.2,854.36 h-9.15 M1048.2,889.99 h-4.68 M1048.2,783.09 h-9.15 M1048.2,818.72 h-4.68 M1048.2,711.82 h-9.15 M1048.2,747.45 h-4.68 M1048.2,640.55 h-9.15 M1048.2,676.18 h-4.68"/>
<text transform="translate(473.41,1132.89) scale(0.9360,1)" font-size="25.73" text-anchor="middle">0</text>
<text transform="translate(561.93,1132.89) scale(0.9360,1)" font-size="25.73" text-anchor="middle">2</text>
<text transform="translate(650.46,1132.89) scale(0.9360,1)" font-size="25.73" text-anchor="middle">4</text>
<text transform="translate(738.98,1132.89) scale(0.9360,1)" font-size="25.73" text-anchor="middle">6</text>
<text transform="translate(827.50,1132.89) scale(0.9360,1)" font-size="25.73" text-anchor="middle">8</text>
<text transform="translate(916.03,1132.89) scale(0.9360,1)" font-size="25.73" text-anchor="middle">10</text>
<text transform="translate(1004.55,1132.89) scale(0.9360,1)" font-size="25.73" text-anchor="middle">12</text>
<text transform="translate(462.43,1111.43) scale(0.9360,1)" font-size="25.73" text-anchor="end">0.0</text>
<text transform="translate(462.43,1045.25) scale(0.9360,1)" font-size="25.73" text-anchor="end">0.1</text>
<text transform="translate(462.43,979.07) scale(0.9360,1)" font-size="25.73" text-anchor="end">0.2</text>
<text transform="translate(462.43,912.89) scale(0.9360,1)" font-size="25.73" text-anchor="end">0.3</text>
<text transform="translate(462.43,846.71) scale(0.9360,1)" font-size="25.73" text-anchor="end">0.4</text>
<text transform="translate(462.43,780.53) scale(0.9360,1)" font-size="25.73" text-anchor="end">0.5</text>
<text transform="translate(462.43,714.36) scale(0.9360,1)" font-size="25.73" text-anchor="end">0.6</text>
<text transform="translate(462.43,648.18) scale(0.9360,1)" font-size="25.73" text-anchor="end">0.7</text>
<text transform="translate(1057.96,1075.79) scale(0.9360,1)" font-size="25.73">40</text>
<text transform="translate(1057.96,1004.52) scale(0.9360,1)" font-size="25.73">50</text>
<text transform="translate(1057.96,933.25) scale(0.9360,1)" font-size="25.73">60</text>
<text transform="translate(1057.96,861.99) scale(0.9360,1)" font-size="25.73">70</text>
<text transform="translate(1057.96,790.72) scale(0.9360,1)" font-size="25.73">80</text>
<text transform="translate(1057.96,719.45) scale(0.9360,1)" font-size="25.73">90</text>
<text transform="translate(1057.96,648.18) scale(0.9360,1)" font-size="25.73">100</text>
<text transform="translate(746.00,1153.60)" font-size="28.48" text-anchor="middle">time/h</text>
<text transform="translate(426.90,894.30) rotate(-90) scale(0.9470,1)" font-size="30.00" text-anchor="middle">axial strain/10<tspan font-size="15.25" dy="-10.68">-2</tspan></text>
<text transform="translate(1105.70,894.30) rotate(-90) scale(0.9470,1)" font-size="30.00" text-anchor="middle">amplitude/dB</text>
<path class="cv" stroke-width="2.34" d="M493.3,655.4 H548.3"/>
<circle class="pt" stroke-width="0.92" cx="520.9" cy="684.8" r="4.17"/>
<text transform="translate(555.60,663.30)" font-size="28.48">axial strain</text>
<text transform="translate(553.20,689.20)" font-size="28.48">amplitude</text>
<text transform="translate(751.50,1203.00)" font-size="42.50" text-anchor="middle" class="lb">(c)</text>
</g>
</svg>
</body>
</html>
